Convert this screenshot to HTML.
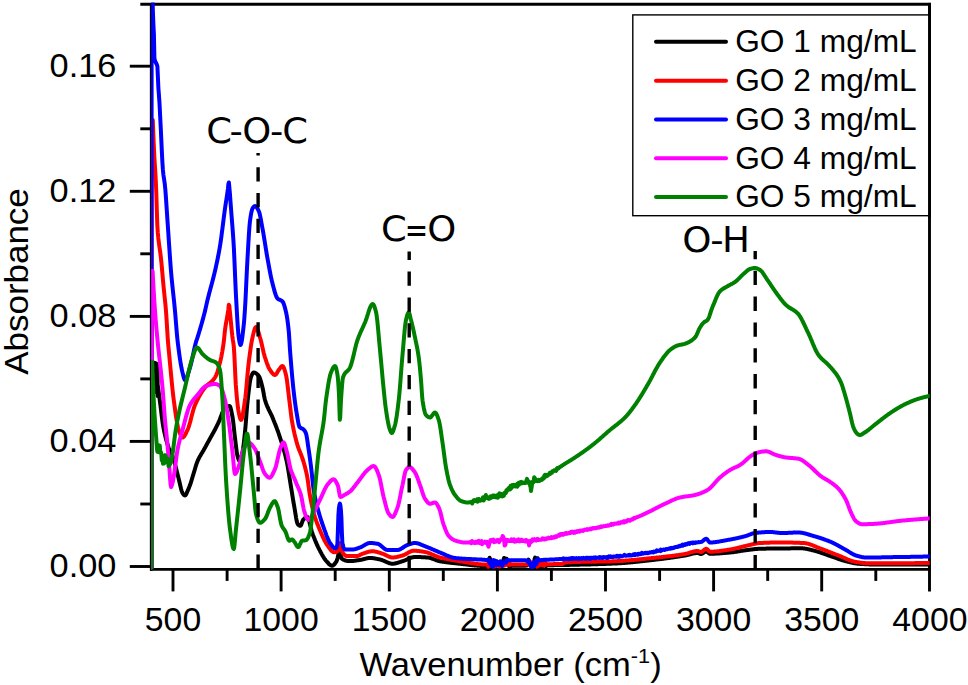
<!DOCTYPE html>
<html lang="en"><head><meta charset="utf-8"><title>FTIR absorbance of GO</title>
<style>html,body{margin:0;padding:0;background:#fff}body{width:968px;height:685px;overflow:hidden}svg{display:block}text{font-family:"Liberation Sans",Arial,sans-serif;fill:#000}.ann{font-family:"DejaVu Sans","Liberation Sans",sans-serif;font-stretch:normal}</style></head><body>
<svg width="968" height="685" viewBox="0 0 968 685">
<rect width="968" height="685" fill="#fff"/>
<defs><clipPath id="pc"><rect x="151.2" y="2.4" width="778.5" height="569"/></clipPath></defs>
<g stroke="#000" stroke-width="2.9" fill="none" stroke-linecap="butt">
<path d="M151.3,2.9000000000000004V570.6999999999999"/>
<path d="M150.0,569.4H930.8"/>
<path d="M140.3,4.2H930.8"/>
<path d="M929.5,2.9000000000000004V591.4"/>
<path d="M173.0,569.4V591.4"/>
<path d="M227.1,569.4V580.9"/>
<path d="M281.1,569.4V591.4"/>
<path d="M335.2,569.4V580.9"/>
<path d="M389.3,569.4V591.4"/>
<path d="M443.3,569.4V580.9"/>
<path d="M497.4,569.4V591.4"/>
<path d="M551.4,569.4V580.9"/>
<path d="M605.5,569.4V591.4"/>
<path d="M659.6,569.4V580.9"/>
<path d="M713.6,569.4V591.4"/>
<path d="M767.7,569.4V580.9"/>
<path d="M821.7,569.4V591.4"/>
<path d="M875.8,569.4V580.9"/>
<path d="M129.8,566.5H151.3"/>
<path d="M140.3,504.0H151.3"/>
<path d="M129.8,441.4H151.3"/>
<path d="M140.3,378.9H151.3"/>
<path d="M129.8,316.4H151.3"/>
<path d="M140.3,253.8H151.3"/>
<path d="M129.8,191.3H151.3"/>
<path d="M140.3,128.8H151.3"/>
<path d="M129.8,66.2H151.3"/>
</g>
<g clip-path="url(#pc)" fill="none" stroke-linejoin="round" stroke-linecap="round">
<path stroke="#000000" stroke-width="4.0" d="M151.6,567.5L151.6,362.0L152.6,362.0 153.1,362.2 153.6,362.8 154.1,363.8 154.6,364.9 155.1,366.3 155.6,368.9 156.1,372.7 156.6,376.9 157.1,380.7 157.6,384.3 158.1,387.9 158.6,391.6 159.1,395.3 159.6,399.0 160.1,402.8 160.6,406.7 161.1,410.8 161.6,414.9 162.1,418.8 162.6,422.4 163.1,425.6 163.6,428.4 164.1,430.9 164.6,433.3 165.1,435.4 165.6,437.4 166.1,439.4 166.6,441.2 167.1,443.0 167.6,444.6 168.1,446.2 168.6,447.6 169.1,448.9 169.6,450.0 170.1,451.0 170.6,452.0 171.1,452.9 171.6,453.9 172.1,455.0 172.6,456.3 173.1,457.7 173.6,459.3 174.1,461.0 174.6,462.8 175.1,464.6 175.6,466.6 176.1,468.6 176.6,470.6 177.1,472.6 177.6,474.6 178.1,476.5 178.6,478.4 179.1,480.4 179.6,482.5 180.1,484.7 180.6,486.9 181.1,489.0 181.6,490.8 182.1,492.2 182.6,493.2 183.1,493.9 183.6,494.6 184.1,495.1 184.6,495.4 185.1,495.5 185.6,495.1 186.1,494.4 186.6,493.3 187.1,492.1 187.6,490.9 188.1,489.8 188.6,488.7 189.1,487.4 189.6,486.1 190.1,484.8 190.6,483.3 191.1,481.8 191.6,480.2 192.1,478.5 192.6,476.8 193.1,475.1 193.6,473.5 194.1,471.9 194.6,470.2 195.1,468.5 195.6,466.8 196.1,465.2 196.6,463.7 197.1,462.3 197.6,461.0 198.1,459.9 198.6,458.8 199.1,457.8 199.6,456.9 200.1,456.0 200.6,455.2 201.1,454.3 201.6,453.5 202.1,452.7 202.6,451.9 203.1,451.0 203.6,450.2 204.1,449.3 204.6,448.4 205.1,447.5 205.6,446.6 206.1,445.6 206.6,444.7 207.1,443.8 207.6,442.9 208.1,442.0 208.6,441.1 209.1,440.2 209.6,439.3 210.1,438.4 210.6,437.5 211.1,436.6 211.6,435.7 212.1,434.8 212.6,433.9 213.1,433.0 213.6,432.1 214.1,431.2 214.6,430.3 215.1,429.3 215.6,428.3 216.1,427.3 216.6,426.3 217.1,425.3 217.6,424.3 218.1,423.3 218.6,422.2 219.1,421.1 219.6,419.9 220.1,418.6 220.6,417.3 221.1,415.9 221.6,414.6 222.1,413.3 222.6,412.0 223.1,410.9 223.6,409.9 224.1,409.0 224.6,408.4 225.1,407.9 225.6,407.6 226.1,407.3 226.6,406.9 227.1,406.7 227.6,406.4 228.1,406.2 228.6,406.1 229.1,406.0 229.6,406.0 230.1,406.6 230.6,408.0 231.1,410.0 231.6,412.3 232.1,414.9 232.6,417.5 233.1,421.0 233.6,425.3 234.1,430.0 234.6,434.6 235.1,438.8 235.6,442.9 236.1,447.1 236.6,450.9 237.1,454.2 237.6,456.4 238.1,458.2 238.6,459.7 239.1,460.7 239.6,461.0 240.1,460.5 240.6,459.4 241.1,457.8 241.6,455.9 242.1,453.8 242.6,451.5 243.1,448.6 243.6,444.9 244.1,440.5 244.6,435.8 245.1,431.0 245.6,425.3 246.1,418.8 246.6,412.2 247.1,406.1 247.6,401.1 248.1,396.5 248.6,392.1 249.1,387.9 249.6,384.1 250.1,380.8 250.6,378.4 251.1,376.7 251.6,375.5 252.1,374.4 252.6,373.5 253.1,372.8 253.6,372.5 254.1,372.5 254.6,372.6 255.1,372.8 255.6,373.1 256.1,373.4 256.6,373.8 257.1,374.2 257.6,374.7 258.1,375.3 258.6,375.8 259.1,376.5 259.6,377.5 260.1,378.8 260.6,380.4 261.1,382.1 261.6,384.0 262.1,385.9 262.6,387.9 263.1,390.3 263.6,393.0 264.1,395.9 264.6,398.4 265.1,400.3 265.6,401.9 266.1,403.4 266.6,404.7 267.1,406.0 267.6,407.2 268.1,408.2 268.6,409.3 269.1,410.3 269.6,411.3 270.1,412.3 270.6,413.3 271.1,414.3 271.6,415.3 272.1,416.5 272.6,417.7 273.1,418.9 273.6,420.2 274.1,421.4 274.6,422.7 275.1,423.9 275.6,425.2 276.1,426.5 276.6,427.8 277.1,429.2 277.6,430.5 278.1,431.9 278.6,433.3 279.1,434.8 279.6,436.3 280.1,437.8 280.6,439.3 281.1,440.9 281.6,442.5 282.1,444.1 282.6,445.7 283.1,447.4 283.6,449.1 284.1,450.9 284.6,452.7 285.1,454.6 285.6,456.6 286.1,458.7 286.6,460.9 287.1,463.3 287.6,466.0 288.1,468.9 288.6,471.9 289.1,475.0 289.6,478.2 290.1,481.3 290.6,484.4 291.1,487.4 291.6,490.5 292.1,493.6 292.6,496.8 293.1,499.8 293.6,502.8 294.1,505.7 294.6,508.5 295.1,511.6 295.6,514.7 296.1,517.8 296.6,520.5 297.1,522.6 297.6,523.9 298.1,524.5 298.6,525.0 299.1,525.4 299.6,525.6 300.1,525.8 300.6,525.7 301.1,524.9 301.6,523.7 302.1,522.3 302.6,521.0 303.1,519.9 303.6,519.3 304.1,518.8 304.6,518.3 305.1,517.9 305.6,517.6 306.1,517.3 306.6,517.1 307.1,517.0 307.6,517.2 308.1,518.0 308.6,519.2 309.1,520.8 309.6,522.7 310.1,524.7 310.6,526.8 311.1,528.8 311.6,530.8 312.1,532.4 312.6,533.8 313.1,535.2 313.6,536.5 314.1,537.8 314.6,539.0 315.1,540.3 315.6,541.5 316.1,542.7 316.6,543.8 317.1,545.0 317.6,546.0 318.1,547.1 318.6,548.1 319.1,549.1 319.6,550.1 320.1,551.0 320.6,552.0 321.1,552.9 321.6,553.9 322.1,554.8 322.6,555.6 323.1,556.5 323.6,557.3 324.1,558.1 324.6,558.8 325.1,559.5 325.6,560.2 326.1,560.8 326.6,561.3 327.1,561.9 327.6,562.4 328.1,563.0 328.6,563.5 329.1,564.1 329.6,564.5 330.1,564.9 330.6,565.3 331.1,565.5 331.6,565.7 332.1,565.7 332.6,565.6 333.1,565.4 333.6,565.0 334.1,564.5 334.6,564.0 335.1,563.3 335.6,562.6 336.1,561.9 336.6,561.1 337.1,559.8 337.6,557.9 338.1,555.6 338.6,553.4 339.1,551.7 339.6,550.9 340.1,551.7 340.6,554.0 341.1,556.7 341.6,558.5 342.1,558.9 342.6,559.2 343.1,559.5 343.6,559.8 344.1,560.0 344.6,560.2 345.1,560.4 345.6,560.6 346.1,560.7 346.6,560.8 347.1,560.9 347.6,561.0 348.1,561.0 348.6,561.1 349.1,561.1 349.6,561.1 350.1,561.1 350.6,561.1 351.1,561.1 351.6,561.0 352.1,561.0 352.6,561.0 353.1,560.9 353.6,560.9 354.1,560.8 354.6,560.7 355.1,560.7 355.6,560.6 356.1,560.6 356.6,560.5 357.1,560.4 357.6,560.3 358.1,560.3 358.6,560.2 359.1,560.1 359.6,560.1 360.1,560.0 360.6,559.9 361.1,559.8 361.6,559.7 362.1,559.6 362.6,559.5 363.1,559.3 363.6,559.2 364.1,559.1 364.6,558.9 365.1,558.8 365.6,558.7 366.1,558.5 366.6,558.4 367.1,558.3 367.6,558.2 368.1,558.1 368.6,558.1 369.1,558.0 369.6,558.0 370.1,558.0 370.6,558.0 371.1,558.0 371.6,558.1 372.1,558.1 372.6,558.1 373.1,558.2 373.6,558.3 374.1,558.3 374.6,558.4 375.1,558.5 375.6,558.6 376.1,558.7 376.6,558.8 377.1,558.9 377.6,559.0 378.1,559.1 378.6,559.2 379.1,559.3 379.6,559.4 380.1,559.5 380.6,559.6 381.1,559.8 381.6,559.9 382.1,560.1 382.6,560.3 383.1,560.5 383.6,560.7 384.1,561.0 384.6,561.2 385.1,561.4 385.6,561.6 386.1,561.9 386.6,562.1 387.1,562.3 387.6,562.5 388.1,562.7 388.6,562.9 389.1,563.1 389.6,563.3 390.1,563.4 390.6,563.5 391.1,563.6 391.6,563.7 392.1,563.7 392.6,563.7 393.1,563.7 393.6,563.7 394.1,563.6 394.6,563.6 395.1,563.5 395.6,563.4 396.1,563.2 396.6,563.1 397.1,563.0 397.6,562.8 398.1,562.7 398.6,562.5 399.1,562.3 399.6,562.2 400.1,562.0 400.6,561.8 401.1,561.7 401.6,561.5 402.1,561.4 402.6,561.2 403.1,561.1 403.6,560.9 404.1,560.7 404.6,560.5 405.1,560.3 405.6,560.1 406.1,559.9 406.6,559.6 407.1,559.4 407.6,559.2 408.1,559.0 408.6,558.7 409.1,558.5 409.6,558.3 410.1,558.1 410.6,557.9 411.1,557.7 411.6,557.6 412.1,557.4 412.6,557.3 413.1,557.2 413.6,557.1 414.1,557.0 414.6,557.0 415.1,557.0 415.6,557.0 416.1,557.0 416.6,557.0 417.1,557.0 417.6,557.0 418.1,557.0 418.6,557.0 419.1,557.1 419.6,557.1 420.1,557.1 420.6,557.1 421.1,557.1 421.6,557.2 422.1,557.2 422.6,557.2 423.1,557.2 423.6,557.3 424.1,557.3 424.6,557.3 425.1,557.3 425.6,557.4 426.1,557.4 426.6,557.4 427.1,557.5 427.6,557.5 428.1,557.6 428.6,557.6 429.1,557.7 429.6,557.8 430.1,558.0 430.6,558.1 431.1,558.2 431.6,558.4 432.1,558.6 432.6,558.8 433.1,559.0 433.6,559.1 434.1,559.3 434.6,559.5 435.1,559.7 435.6,559.9 436.1,560.1 436.6,560.3 437.1,560.5 437.6,560.6 438.1,560.8 438.6,560.9 439.1,561.1 439.6,561.2 440.1,561.3 440.6,561.4 441.1,561.4 441.6,561.5 442.1,561.6 442.6,561.7 443.1,561.8 443.6,561.8 444.1,561.9 444.6,562.0 445.1,562.1 445.6,562.1 446.1,562.2 446.6,562.3 447.1,562.3 447.6,562.4 448.1,562.5 448.6,562.5 449.1,562.6 449.6,562.6 450.1,562.7 450.6,562.8 451.1,562.8 451.6,562.9 452.1,562.9 452.6,563.0 453.1,563.0 453.6,563.1 454.1,563.1 454.6,563.2 455.1,563.2 455.6,563.3 456.1,563.3 456.6,563.4 457.1,563.4 457.6,563.5 458.1,563.6 458.6,563.6 459.1,563.7 459.6,563.7 460.1,563.8 460.6,563.8 461.1,563.9 461.6,563.9 462.1,564.0 462.6,564.0 463.1,564.1 463.6,564.2 464.1,564.2 464.6,564.3 465.1,564.3 465.6,564.4 466.1,564.5 466.6,564.5 467.1,564.6 467.6,564.6 468.1,564.7 468.6,564.8 469.1,564.8 469.6,564.9 470.1,564.9 470.6,565.0 471.1,565.0 471.6,565.1 472.1,565.2 472.6,565.2 473.1,565.3 473.6,565.3 474.1,565.4 474.6,565.4 475.1,565.5 475.6,565.5 476.1,565.6 476.6,565.6 477.1,565.6 477.6,565.7 478.1,565.7 478.6,565.8 479.1,565.8 479.6,565.8 480.1,565.9 480.6,565.9 481.1,565.9 481.6,565.9 482.1,565.9 482.6,566.0 483.1,566.0 483.6,566.0 484.1,566.0 484.6,566.0 485.1,566.0 485.6,566.0 486.1,566.0 486.6,565.9 487.1,566.0 487.6,566.2 488.1,565.3 488.6,564.9 489.1,562.4 489.6,557.8 490.1,558.9 490.6,560.9 491.1,563.1 491.6,565.2 492.1,566.3 492.6,565.8 493.1,565.8 493.6,564.8 494.1,566.4 494.6,566.1 495.1,566.2 495.6,564.6 496.1,566.2 496.6,563.0 497.1,561.7 497.6,565.3 498.1,565.3 498.6,564.7 499.1,565.6 499.6,564.1 500.1,566.8 500.6,565.6 501.1,565.3 501.6,566.8 502.1,564.4 502.6,565.4 503.1,561.2 503.6,559.4 504.1,558.0 504.6,562.2 505.1,564.9 505.6,563.1 506.1,561.0 506.6,558.8 507.1,562.3 507.6,564.2 508.1,564.4 508.6,564.4 509.1,566.2 509.6,567.3 510.1,566.0 510.6,565.7 511.1,566.1 511.6,565.8 512.1,565.8 512.6,565.8 513.1,565.8 513.6,565.8 514.1,565.8 514.6,565.8 515.1,565.8 515.6,565.8 516.1,565.8 516.6,565.8 517.1,565.8 517.6,565.8 518.1,565.8 518.6,565.7 519.1,565.7 519.6,565.7 520.1,565.7 520.6,565.7 521.1,565.7 521.6,565.7 522.1,565.7 522.6,565.7 523.1,565.7 523.6,565.7 524.1,565.7 524.6,565.7 525.1,565.7 525.6,565.6 526.1,565.6 526.6,565.6 527.1,565.1 527.6,563.4 528.1,560.7 528.6,559.7 529.1,561.7 529.6,564.1 530.1,564.4 530.6,565.9 531.1,565.5 531.6,566.5 532.1,565.2 532.6,564.0 533.1,565.4 533.6,566.3 534.1,562.6 534.6,559.0 535.1,557.6 535.6,560.1 536.1,563.0 536.6,561.6 537.1,560.9 537.6,558.3 538.1,561.0 538.6,565.0 539.1,566.3 539.6,565.2 540.1,565.7 540.6,566.0 541.1,565.2 541.6,564.0 542.1,565.9 542.6,566.1 543.1,565.7 543.6,564.6 544.1,565.2 544.6,564.8 545.1,565.1 545.6,566.1 546.1,566.0 546.6,565.5 547.1,565.4 547.6,565.3 548.1,565.3 548.6,565.2 549.1,565.2 549.6,565.2 550.1,565.2 550.6,565.2 551.1,565.2 551.6,565.2 552.1,565.2 552.6,565.2 553.1,565.2 553.6,565.2 554.1,565.1 554.6,565.1 555.1,565.1 555.6,565.1 556.1,565.1 556.6,565.1 557.1,565.1 557.6,565.1 558.1,565.1 558.6,565.1 559.1,565.1 559.6,565.0 560.1,565.0 560.6,565.0 561.1,565.0 561.6,565.0 562.1,565.0 562.6,565.0 563.1,565.0 563.6,565.0 564.1,565.0 564.6,565.0 565.1,564.9 565.6,564.9 566.1,564.9 566.6,564.9 567.1,564.9 567.6,564.9 568.1,564.9 568.6,564.9 569.1,564.9 569.6,564.9 570.1,564.8 570.6,564.8 571.1,564.8 571.6,564.8 572.1,564.8 572.6,564.8 573.1,564.8 573.6,564.8 574.1,564.8 574.6,564.8 575.1,564.7 575.6,564.7 576.1,564.7 576.6,564.7 577.1,564.7 577.6,564.7 578.1,564.7 578.6,564.7 579.1,564.7 579.6,564.6 580.1,564.6 580.6,564.6 581.1,564.6 581.6,564.6 582.1,564.6 582.6,564.6 583.1,564.6 583.6,564.6 584.1,564.5 584.6,564.5 585.1,564.5 585.6,564.5 586.1,564.5 586.6,564.5 587.1,564.5 587.6,564.4 588.1,564.4 588.6,564.4 589.1,564.4 589.6,564.4 590.1,564.4 590.6,564.4 591.1,564.4 591.6,564.3 592.1,564.3 592.6,564.3 593.1,564.3 593.6,564.3 594.1,564.3 594.6,564.3 595.1,564.2 595.6,564.2 596.1,564.2 596.6,564.2 597.1,564.2 597.6,564.2 598.1,564.1 598.6,564.1 599.1,564.1 599.6,564.1 600.1,564.1 600.6,564.1 601.1,564.0 601.6,564.0 602.1,564.0 602.6,564.0 603.1,564.0 603.6,564.0 604.1,563.9 604.6,563.9 605.1,563.9 605.6,563.9 606.1,563.9 606.6,563.8 607.1,563.8 607.6,563.8 608.1,563.8 608.6,563.8 609.1,563.7 609.6,563.7 610.1,563.7 610.6,563.7 611.1,563.7 611.6,563.6 612.1,563.6 612.6,563.6 613.1,563.6 613.6,563.6 614.1,563.5 614.6,563.5 615.1,563.5 615.6,563.5 616.1,563.4 616.6,563.4 617.1,563.4 617.6,563.4 618.1,563.3 618.6,563.3 619.1,563.3 619.6,563.3 620.1,563.2 620.6,563.2 621.1,563.2 621.6,563.1 622.1,563.1 622.6,563.0 623.1,563.0 623.6,563.0 624.1,562.9 624.6,562.9 625.1,562.9 625.6,562.8 626.1,562.8 626.6,562.7 627.1,562.7 627.6,562.6 628.1,562.6 628.6,562.6 629.1,562.5 629.6,562.5 630.1,562.4 630.6,562.4 631.1,562.3 631.6,562.3 632.1,562.2 632.6,562.2 633.1,562.1 633.6,562.1 634.1,562.0 634.6,562.0 635.1,561.9 635.6,561.9 636.1,561.8 636.6,561.8 637.1,561.7 637.6,561.7 638.1,561.6 638.6,561.6 639.1,561.5 639.6,561.4 640.1,561.4 640.6,561.3 641.1,561.3 641.6,561.2 642.1,561.2 642.6,561.1 643.1,561.1 643.6,561.0 644.1,560.9 644.6,560.9 645.1,560.8 645.6,560.8 646.1,560.7 646.6,560.7 647.1,560.6 647.6,560.6 648.1,560.5 648.6,560.4 649.1,560.4 649.6,560.3 650.1,560.3 650.6,560.2 651.1,560.2 651.6,560.1 652.1,560.0 652.6,560.0 653.1,559.9 653.6,559.9 654.1,559.8 654.6,559.8 655.1,559.7 655.6,559.6 656.1,559.6 656.6,559.5 657.1,559.5 657.6,559.4 658.1,559.3 658.6,559.3 659.1,559.2 659.6,559.2 660.1,559.1 660.6,559.0 661.1,559.0 661.6,558.9 662.1,558.9 662.6,558.8 663.1,558.7 663.6,558.7 664.1,558.6 664.6,558.5 665.1,558.5 665.6,558.4 666.1,558.3 666.6,558.3 667.1,558.2 667.6,558.1 668.1,558.1 668.6,558.0 669.1,557.9 669.6,557.9 670.1,557.8 670.6,557.7 671.1,557.6 671.6,557.6 672.1,557.5 672.6,557.4 673.1,557.4 673.6,557.3 674.1,557.2 674.6,557.1 675.1,557.1 675.6,557.0 676.1,556.9 676.6,556.8 677.1,556.8 677.6,556.7 678.1,556.6 678.6,556.5 679.1,556.5 679.6,556.4 680.1,556.3 680.6,556.2 681.1,556.1 681.6,556.1 682.1,556.0 682.6,555.9 683.1,555.8 683.6,555.7 684.1,555.7 684.6,555.6 685.1,555.5 685.6,555.4 686.1,555.3 686.6,555.2 687.1,555.1 687.6,554.9 688.1,554.8 688.6,554.7 689.1,554.6 689.6,554.4 690.1,554.3 690.6,554.2 691.1,554.0 691.6,553.9 692.1,553.8 692.6,553.7 693.1,553.5 693.6,553.4 694.1,553.3 694.6,553.3 695.1,553.2 695.6,553.1 696.1,553.1 696.6,553.0 697.1,553.0 697.6,553.0 698.1,553.1 698.6,553.2 699.1,553.4 699.6,553.6 700.1,553.8 700.6,554.0 701.1,554.0 701.6,553.9 702.1,553.7 702.6,553.4 703.1,553.1 703.6,552.8 704.1,552.4 704.6,552.1 705.1,551.8 705.6,551.6 706.1,551.5 706.6,551.6 707.1,551.8 707.6,552.2 708.1,552.6 708.6,553.0 709.1,553.4 709.6,553.7 710.1,553.7 710.6,553.7 711.1,553.7 711.6,553.7 712.1,553.7 712.6,553.7 713.1,553.7 713.6,553.7 714.1,553.7 714.6,553.7 715.1,553.6 715.6,553.6 716.1,553.6 716.6,553.6 717.1,553.5 717.6,553.5 718.1,553.5 718.6,553.4 719.1,553.4 719.6,553.4 720.1,553.3 720.6,553.3 721.1,553.3 721.6,553.2 722.1,553.2 722.6,553.1 723.1,553.1 723.6,553.1 724.1,553.0 724.6,553.0 725.1,552.9 725.6,552.9 726.1,552.8 726.6,552.8 727.1,552.8 727.6,552.7 728.1,552.7 728.6,552.6 729.1,552.6 729.6,552.5 730.1,552.5 730.6,552.4 731.1,552.4 731.6,552.3 732.1,552.3 732.6,552.2 733.1,552.2 733.6,552.1 734.1,552.0 734.6,552.0 735.1,551.9 735.6,551.8 736.1,551.7 736.6,551.7 737.1,551.6 737.6,551.5 738.1,551.4 738.6,551.3 739.1,551.3 739.6,551.2 740.1,551.1 740.6,551.0 741.1,550.9 741.6,550.8 742.1,550.8 742.6,550.7 743.1,550.6 743.6,550.5 744.1,550.5 744.6,550.4 745.1,550.3 745.6,550.2 746.1,550.2 746.6,550.1 747.1,550.0 747.6,550.0 748.1,549.9 748.6,549.9 749.1,549.8 749.6,549.7 750.1,549.7 750.6,549.6 751.1,549.6 751.6,549.5 752.1,549.4 752.6,549.4 753.1,549.3 753.6,549.2 754.1,549.2 754.6,549.1 755.1,549.1 755.6,549.0 756.1,549.0 756.6,548.9 757.1,548.9 757.6,548.9 758.1,548.8 758.6,548.8 759.1,548.8 759.6,548.8 760.1,548.7 760.6,548.7 761.1,548.7 761.6,548.7 762.1,548.7 762.6,548.7 763.1,548.7 763.6,548.7 764.1,548.7 764.6,548.7 765.1,548.7 765.6,548.7 766.1,548.6 766.6,548.6 767.1,548.6 767.6,548.6 768.1,548.6 768.6,548.6 769.1,548.6 769.6,548.6 770.1,548.6 770.6,548.6 771.1,548.6 771.6,548.6 772.1,548.6 772.6,548.6 773.1,548.6 773.6,548.6 774.1,548.6 774.6,548.6 775.1,548.6 775.6,548.6 776.1,548.5 776.6,548.5 777.1,548.5 777.6,548.5 778.1,548.5 778.6,548.5 779.1,548.5 779.6,548.5 780.1,548.5 780.6,548.5 781.1,548.5 781.6,548.5 782.1,548.5 782.6,548.5 783.1,548.5 783.6,548.5 784.1,548.5 784.6,548.4 785.1,548.4 785.6,548.4 786.1,548.4 786.6,548.4 787.1,548.4 787.6,548.4 788.1,548.4 788.6,548.4 789.1,548.4 789.6,548.4 790.1,548.4 790.6,548.4 791.1,548.3 791.6,548.3 792.1,548.3 792.6,548.3 793.1,548.3 793.6,548.3 794.1,548.3 794.6,548.3 795.1,548.3 795.6,548.3 796.1,548.3 796.6,548.3 797.1,548.3 797.6,548.3 798.1,548.3 798.6,548.3 799.1,548.3 799.6,548.3 800.1,548.3 800.6,548.3 801.1,548.3 801.6,548.3 802.1,548.3 802.6,548.3 803.1,548.4 803.6,548.4 804.1,548.5 804.6,548.5 805.1,548.6 805.6,548.7 806.1,548.8 806.6,548.9 807.1,549.0 807.6,549.1 808.1,549.2 808.6,549.3 809.1,549.4 809.6,549.6 810.1,549.7 810.6,549.8 811.1,549.9 811.6,550.0 812.1,550.2 812.6,550.3 813.1,550.4 813.6,550.5 814.1,550.6 814.6,550.8 815.1,550.9 815.6,551.0 816.1,551.2 816.6,551.3 817.1,551.5 817.6,551.6 818.1,551.8 818.6,551.9 819.1,552.1 819.6,552.2 820.1,552.4 820.6,552.6 821.1,552.8 821.6,552.9 822.1,553.1 822.6,553.3 823.1,553.5 823.6,553.6 824.1,553.8 824.6,554.0 825.1,554.2 825.6,554.4 826.1,554.5 826.6,554.7 827.1,554.9 827.6,555.1 828.1,555.3 828.6,555.4 829.1,555.6 829.6,555.8 830.1,555.9 830.6,556.1 831.1,556.3 831.6,556.5 832.1,556.6 832.6,556.8 833.1,557.0 833.6,557.1 834.1,557.3 834.6,557.5 835.1,557.7 835.6,557.9 836.1,558.0 836.6,558.2 837.1,558.4 837.6,558.6 838.1,558.8 838.6,558.9 839.1,559.1 839.6,559.3 840.1,559.5 840.6,559.6 841.1,559.8 841.6,560.0 842.1,560.1 842.6,560.3 843.1,560.4 843.6,560.6 844.1,560.7 844.6,560.9 845.1,561.0 845.6,561.1 846.1,561.3 846.6,561.4 847.1,561.5 847.6,561.7 848.1,561.8 848.6,561.9 849.1,562.0 849.6,562.2 850.1,562.3 850.6,562.4 851.1,562.5 851.6,562.6 852.1,562.7 852.6,562.8 853.1,563.0 853.6,563.1 854.1,563.2 854.6,563.2 855.1,563.3 855.6,563.4 856.1,563.5 856.6,563.6 857.1,563.6 857.6,563.7 858.1,563.7 858.6,563.8 859.1,563.8 859.6,563.8 860.1,563.9 860.6,563.9 861.1,563.9 861.6,564.0 862.1,564.0 862.6,564.0 863.1,564.1 863.6,564.1 864.1,564.1 864.6,564.1 865.1,564.2 865.6,564.2 866.1,564.2 866.6,564.3 867.1,564.3 867.6,564.3 868.1,564.3 868.6,564.3 869.1,564.4 869.6,564.4 870.1,564.4 870.6,564.4 871.1,564.4 871.6,564.4 872.1,564.5 872.6,564.5 873.1,564.5 873.6,564.5 874.1,564.5 874.6,564.5 875.1,564.5 875.6,564.5 876.1,564.5 876.6,564.5 877.1,564.5 877.6,564.5 878.1,564.5 878.6,564.5 879.1,564.5 879.6,564.5 880.1,564.5 880.6,564.5 881.1,564.5 881.6,564.5 882.1,564.5 882.6,564.5 883.1,564.5 883.6,564.5 884.1,564.5 884.6,564.5 885.1,564.5 885.6,564.5 886.1,564.5 886.6,564.5 887.1,564.5 887.6,564.5 888.1,564.5 888.6,564.5 889.1,564.5 889.6,564.5 890.1,564.5 890.6,564.5 891.1,564.5 891.6,564.5 892.1,564.5 892.6,564.5 893.1,564.5 893.6,564.5 894.1,564.5 894.6,564.5 895.1,564.5 895.6,564.5 896.1,564.5 896.6,564.5 897.1,564.5 897.6,564.5 898.1,564.5 898.6,564.5 899.1,564.5 899.6,564.5 900.1,564.5 900.6,564.5 901.1,564.5 901.6,564.5 902.1,564.5 902.6,564.5 903.1,564.5 903.6,564.5 904.1,564.5 904.6,564.5 905.1,564.5 905.6,564.5 906.1,564.5 906.6,564.5 907.1,564.5 907.6,564.5 908.1,564.5 908.6,564.5 909.1,564.5 909.6,564.5 910.1,564.5 910.6,564.5 911.1,564.5 911.6,564.5 912.1,564.5 912.6,564.5 913.1,564.5 913.6,564.5 914.1,564.5 914.6,564.5 915.1,564.5 915.6,564.5 916.1,564.5 916.6,564.5 917.1,564.5 917.6,564.5 918.1,564.5 918.6,564.5 919.1,564.5 919.6,564.5 920.1,564.5 920.6,564.5 921.1,564.5 921.6,564.5 922.1,564.5 922.6,564.5 923.1,564.5 923.6,564.5 924.1,564.5 924.6,564.5 925.1,564.5 925.6,564.5 926.1,564.5 926.6,564.5 927.1,564.5 927.6,564.5 928.1,564.5 928.6,564.5 929.1,564.5 929.6,564.5 930.1,564.5 930.6,564.5M155.3,363V392M157.6,364V396"/>
<path stroke="#ff0000" stroke-width="4.0" d="M151.6,567.5L151.6,120.0L152.8,120.0 153.3,133.5 153.8,145.6 154.3,155.8 154.8,164.1 155.3,171.9 155.8,180.8 156.3,193.1 156.8,209.9 157.3,224.8 157.8,232.5 158.3,237.9 158.8,242.2 159.3,245.9 159.8,249.2 160.3,252.7 160.8,256.7 161.3,261.5 161.8,266.8 162.3,272.4 162.8,278.1 163.3,283.7 163.8,289.0 164.3,293.9 164.8,298.5 165.3,303.3 165.8,308.6 166.3,315.1 166.8,323.1 167.3,331.6 167.8,339.4 168.3,345.4 168.8,350.5 169.3,355.8 169.8,361.2 170.3,366.6 170.8,372.0 171.3,377.3 171.8,382.5 172.3,387.4 172.8,392.1 173.3,396.4 173.8,400.4 174.3,404.1 174.8,407.8 175.3,411.4 175.8,414.9 176.3,418.2 176.8,421.2 177.3,424.0 177.8,426.4 178.3,428.5 178.8,430.1 179.3,431.6 179.8,433.0 180.3,434.3 180.8,435.5 181.3,436.5 181.8,437.1 182.3,437.5 182.8,437.5 183.3,437.2 183.8,436.7 184.3,436.1 184.8,435.4 185.3,434.5 185.8,433.5 186.3,432.5 186.8,431.4 187.3,430.4 187.8,429.4 188.3,428.1 188.8,426.6 189.3,425.0 189.8,423.3 190.3,421.5 190.8,419.5 191.3,417.6 191.8,415.6 192.3,413.7 192.8,411.8 193.3,410.0 193.8,408.4 194.3,406.8 194.8,405.5 195.3,404.3 195.8,403.2 196.3,402.1 196.8,401.0 197.3,400.0 197.8,399.0 198.3,398.0 198.8,397.1 199.3,396.2 199.8,395.3 200.3,394.4 200.8,393.6 201.3,392.8 201.8,392.0 202.3,391.2 202.8,390.5 203.3,389.8 203.8,389.1 204.3,388.4 204.8,387.8 205.3,387.1 205.8,386.5 206.3,386.0 206.8,385.5 207.3,385.1 207.8,384.6 208.3,384.2 208.8,383.8 209.3,383.4 209.8,383.1 210.3,382.7 210.8,382.3 211.3,381.8 211.8,381.4 212.3,380.9 212.8,380.4 213.3,379.8 213.8,379.2 214.3,378.5 214.8,377.8 215.3,377.0 215.8,376.0 216.3,374.8 216.8,373.5 217.3,372.1 217.8,370.5 218.3,368.8 218.8,367.1 219.3,365.2 219.8,363.3 220.3,361.3 220.8,359.1 221.3,356.8 221.8,354.2 222.3,351.5 222.8,348.4 223.3,345.2 223.8,341.6 224.3,336.9 224.8,331.7 225.3,327.8 225.8,324.6 226.3,321.7 226.8,319.0 227.3,316.2 227.8,313.2 228.3,309.7 228.8,304.7 229.3,305.6 229.8,311.0 230.3,315.8 230.8,321.0 231.3,326.3 231.8,331.3 232.3,335.9 232.8,339.6 233.3,342.5 233.8,346.5 234.3,354.0 234.8,364.3 235.3,375.3 235.8,384.7 236.3,391.1 236.8,396.8 237.3,401.9 237.8,406.3 238.3,410.0 238.8,412.7 239.3,415.1 239.8,417.3 240.3,419.0 240.8,419.9 241.3,419.8 241.8,418.8 242.3,416.9 242.8,414.5 243.3,411.5 243.8,408.3 244.3,404.8 244.8,401.4 245.3,397.8 245.8,393.4 246.3,388.2 246.8,382.7 247.3,377.0 247.8,371.5 248.3,366.5 248.8,362.1 249.3,358.1 249.8,354.2 250.3,350.5 250.8,347.0 251.3,343.7 251.8,340.8 252.3,338.4 252.8,336.2 253.3,334.1 253.8,332.1 254.3,330.3 254.8,328.7 255.3,327.6 255.8,327.1 256.3,327.1 256.8,327.7 257.3,328.7 257.8,330.1 258.3,331.7 258.8,333.4 259.3,335.1 259.8,336.9 260.3,338.5 260.8,340.3 261.3,342.3 261.8,344.5 262.3,346.7 262.8,348.9 263.3,351.1 263.8,353.2 264.3,355.1 264.8,356.9 265.3,358.4 265.8,359.9 266.3,361.4 266.8,362.9 267.3,364.2 267.8,365.6 268.3,366.8 268.8,367.9 269.3,368.9 269.8,369.7 270.3,370.4 270.8,371.1 271.3,371.9 271.8,372.5 272.3,373.2 272.8,373.7 273.3,374.2 273.8,374.6 274.3,374.9 274.8,375.0 275.3,374.9 275.8,374.6 276.3,374.0 276.8,373.2 277.3,372.3 277.8,371.4 278.3,370.6 278.8,369.9 279.3,369.3 279.8,368.6 280.3,367.9 280.8,367.2 281.3,366.7 281.8,366.2 282.3,366.0 282.8,366.1 283.3,366.7 283.8,367.6 284.3,369.0 284.8,370.6 285.3,372.3 285.8,374.2 286.3,376.3 286.8,379.3 287.3,383.0 287.8,387.2 288.3,391.6 288.8,395.9 289.3,400.0 289.8,404.0 290.3,408.3 290.8,412.5 291.3,416.5 291.8,419.9 292.3,422.8 292.8,425.5 293.3,428.1 293.8,430.6 294.3,432.9 294.8,435.1 295.3,437.1 295.8,439.1 296.3,441.0 296.8,442.8 297.3,444.5 297.8,446.1 298.3,447.6 298.8,449.0 299.3,450.3 299.8,451.6 300.3,452.8 300.8,454.0 301.3,455.3 301.8,456.6 302.3,458.0 302.8,459.5 303.3,461.1 303.8,462.8 304.3,464.5 304.8,466.3 305.3,468.2 305.8,470.2 306.3,472.4 306.8,474.7 307.3,477.2 307.8,480.4 308.3,484.0 308.8,487.8 309.3,491.4 309.8,494.6 310.3,497.4 310.8,500.0 311.3,502.6 311.8,505.0 312.3,507.3 312.8,509.4 313.3,511.4 313.8,513.2 314.3,514.9 314.8,516.6 315.3,518.1 315.8,519.6 316.3,521.1 316.8,522.4 317.3,523.8 317.8,525.1 318.3,526.3 318.8,527.5 319.3,528.7 319.8,529.9 320.3,531.1 320.8,532.3 321.3,533.4 321.8,534.6 322.3,535.7 322.8,536.8 323.3,537.9 323.8,539.0 324.3,540.0 324.8,541.0 325.3,541.9 325.8,542.8 326.3,543.7 326.8,544.5 327.3,545.2 327.8,545.9 328.3,546.6 328.8,547.3 329.3,548.0 329.8,548.7 330.3,549.4 330.8,550.0 331.3,550.6 331.8,551.1 332.3,551.5 332.8,551.8 333.3,552.1 333.8,552.2 334.3,552.2 334.8,552.2 335.3,552.1 335.8,552.0 336.3,551.8 336.8,551.6 337.3,551.4 337.8,551.1 338.3,549.8 338.8,546.9 339.3,544.0 339.8,543.0 340.3,544.5 340.8,547.1 341.3,549.7 341.8,551.2 342.3,552.0 342.8,552.8 343.3,553.5 343.8,554.1 344.3,554.7 344.8,555.1 345.3,555.5 345.8,555.8 346.3,555.9 346.8,556.0 347.3,556.0 347.8,556.0 348.3,556.0 348.8,556.0 349.3,556.0 349.8,556.0 350.3,556.0 350.8,556.0 351.3,556.0 351.8,556.0 352.3,556.0 352.8,556.0 353.3,556.0 353.8,556.0 354.3,556.0 354.8,556.0 355.3,556.0 355.8,556.0 356.3,556.0 356.8,556.0 357.3,556.0 357.8,555.9 358.3,555.8 358.8,555.6 359.3,555.3 359.8,555.1 360.3,554.8 360.8,554.5 361.3,554.3 361.8,554.0 362.3,553.8 362.8,553.7 363.3,553.5 363.8,553.3 364.3,553.2 364.8,553.0 365.3,552.8 365.8,552.6 366.3,552.5 366.8,552.3 367.3,552.2 367.8,552.0 368.3,551.9 368.8,551.7 369.3,551.6 369.8,551.5 370.3,551.4 370.8,551.4 371.3,551.3 371.8,551.3 372.3,551.3 372.8,551.3 373.3,551.3 373.8,551.3 374.3,551.4 374.8,551.5 375.3,551.6 375.8,551.7 376.3,551.8 376.8,551.9 377.3,552.1 377.8,552.2 378.3,552.4 378.8,552.5 379.3,552.7 379.8,552.9 380.3,553.0 380.8,553.2 381.3,553.4 381.8,553.5 382.3,553.7 382.8,553.8 383.3,554.0 383.8,554.2 384.3,554.4 384.8,554.7 385.3,554.9 385.8,555.2 386.3,555.4 386.8,555.7 387.3,555.9 387.8,556.1 388.3,556.4 388.8,556.6 389.3,556.8 389.8,557.0 390.3,557.1 390.8,557.3 391.3,557.4 391.8,557.5 392.3,557.5 392.8,557.5 393.3,557.5 393.8,557.4 394.3,557.4 394.8,557.3 395.3,557.3 395.8,557.2 396.3,557.1 396.8,557.0 397.3,556.9 397.8,556.8 398.3,556.6 398.8,556.5 399.3,556.4 399.8,556.2 400.3,556.1 400.8,556.0 401.3,555.8 401.8,555.7 402.3,555.6 402.8,555.4 403.3,555.2 403.8,555.1 404.3,554.8 404.8,554.6 405.3,554.3 405.8,554.1 406.3,553.8 406.8,553.5 407.3,553.2 407.8,552.9 408.3,552.6 408.8,552.4 409.3,552.1 409.8,551.9 410.3,551.6 410.8,551.4 411.3,551.2 411.8,551.1 412.3,550.9 412.8,550.8 413.3,550.8 413.8,550.8 414.3,550.8 414.8,550.8 415.3,550.8 415.8,550.8 416.3,550.8 416.8,550.9 417.3,550.9 417.8,551.0 418.3,551.0 418.8,551.1 419.3,551.1 419.8,551.2 420.3,551.3 420.8,551.3 421.3,551.4 421.8,551.5 422.3,551.6 422.8,551.6 423.3,551.7 423.8,551.8 424.3,551.9 424.8,552.0 425.3,552.1 425.8,552.2 426.3,552.3 426.8,552.4 427.3,552.5 427.8,552.7 428.3,552.9 428.8,553.1 429.3,553.2 429.8,553.4 430.3,553.6 430.8,553.8 431.3,554.1 431.8,554.3 432.3,554.5 432.8,554.7 433.3,554.9 433.8,555.2 434.3,555.4 434.8,555.6 435.3,555.8 435.8,556.0 436.3,556.2 436.8,556.4 437.3,556.6 437.8,556.8 438.3,557.0 438.8,557.2 439.3,557.3 439.8,557.4 440.3,557.6 440.8,557.7 441.3,557.8 441.8,557.9 442.3,558.1 442.8,558.2 443.3,558.3 443.8,558.4 444.3,558.5 444.8,558.6 445.3,558.7 445.8,558.8 446.3,558.9 446.8,559.0 447.3,559.1 447.8,559.2 448.3,559.3 448.8,559.4 449.3,559.5 449.8,559.6 450.3,559.7 450.8,559.8 451.3,559.8 451.8,559.9 452.3,560.0 452.8,560.1 453.3,560.2 453.8,560.3 454.3,560.4 454.8,560.4 455.3,560.5 455.8,560.6 456.3,560.7 456.8,560.8 457.3,560.8 457.8,560.9 458.3,561.0 458.8,561.1 459.3,561.1 459.8,561.2 460.3,561.3 460.8,561.4 461.3,561.5 461.8,561.5 462.3,561.6 462.8,561.7 463.3,561.8 463.8,561.9 464.3,562.0 464.8,562.0 465.3,562.1 465.8,562.2 466.3,562.3 466.8,562.4 467.3,562.5 467.8,562.6 468.3,562.7 468.8,562.7 469.3,562.8 469.8,562.9 470.3,563.0 470.8,563.1 471.3,563.2 471.8,563.2 472.3,563.3 472.8,563.4 473.3,563.5 473.8,563.6 474.3,563.6 474.8,563.7 475.3,563.8 475.8,563.8 476.3,563.9 476.8,564.0 477.3,564.0 477.8,564.1 478.3,564.1 478.8,564.2 479.3,564.2 479.8,564.3 480.3,564.3 480.8,564.3 481.3,564.4 481.8,564.4 482.3,564.4 482.8,564.5 483.3,564.5 483.8,564.5 484.3,564.5 484.8,564.5 485.3,564.5 485.8,564.5 486.3,564.5 486.8,564.5 487.3,564.2 487.8,564.5 488.3,566.7 488.8,565.5 489.3,564.1 489.8,563.9 490.3,563.5 490.8,564.9 491.3,565.0 491.8,562.8 492.3,565.1 492.8,563.8 493.3,566.2 493.8,564.7 494.3,566.6 494.8,563.9 495.3,564.2 495.8,564.9 496.3,565.8 496.8,565.2 497.3,563.0 497.8,564.7 498.3,564.5 498.8,564.0 499.3,563.7 499.8,566.6 500.3,564.0 500.8,563.5 501.3,565.3 501.8,564.6 502.3,564.4 502.8,565.4 503.3,565.1 503.8,564.9 504.3,565.6 504.8,564.8 505.3,563.7 505.8,564.1 506.3,563.9 506.8,564.7 507.3,563.2 507.8,562.3 508.3,564.6 508.8,562.9 509.3,562.1 509.8,564.8 510.3,564.0 510.8,564.7 511.3,564.3 511.8,564.5 512.3,564.5 512.8,564.5 513.3,564.5 513.8,564.5 514.3,564.5 514.8,564.5 515.3,564.5 515.8,564.5 516.3,564.5 516.8,564.5 517.3,564.5 517.8,564.5 518.3,564.5 518.8,564.4 519.3,564.4 519.8,564.4 520.3,564.4 520.8,564.4 521.3,564.4 521.8,564.4 522.3,564.4 522.8,564.4 523.3,564.4 523.8,564.4 524.3,564.4 524.8,564.4 525.3,564.4 525.8,564.4 526.3,564.4 526.8,564.4 527.3,564.4 527.8,564.4 528.3,564.4 528.8,564.3 529.3,564.3 529.8,563.8 530.3,564.1 530.8,562.5 531.3,564.4 531.8,562.2 532.3,564.1 532.8,565.2 533.3,565.7 533.8,566.4 534.3,562.5 534.8,565.3 535.3,565.8 535.8,565.5 536.3,563.2 536.8,564.8 537.3,566.6 537.8,562.5 538.3,564.9 538.8,565.7 539.3,563.5 539.8,565.0 540.3,563.0 540.8,563.3 541.3,563.3 541.8,564.5 542.3,564.2 542.8,565.4 543.3,563.1 543.8,564.1 544.3,565.4 544.8,564.9 545.3,562.7 545.8,564.9 546.3,563.9 546.8,564.4 547.3,564.3 547.8,564.2 548.3,564.2 548.8,564.2 549.3,564.2 549.8,564.2 550.3,564.2 550.8,564.2 551.3,564.2 551.8,564.2 552.3,564.2 552.8,564.2 553.3,564.1 553.8,564.1 554.3,564.1 554.8,564.1 555.3,564.1 555.8,564.1 556.3,564.1 556.8,564.1 557.3,564.1 557.8,564.1 558.3,564.1 558.8,564.1 559.3,564.0 559.8,564.0 560.3,564.0 560.8,564.0 561.3,564.0 561.8,564.0 562.3,564.0 562.8,563.7 563.3,563.4 563.8,563.1 564.3,562.7 564.8,562.5 565.3,562.5 565.8,562.4 566.3,562.4 566.8,562.4 567.3,562.4 567.8,562.3 568.3,562.3 568.8,562.3 569.3,562.3 569.8,562.2 570.3,562.2 570.8,562.2 571.3,562.2 571.8,562.1 572.3,562.1 572.8,562.1 573.3,562.1 573.8,562.1 574.3,562.0 574.8,562.0 575.3,562.0 575.8,562.0 576.3,562.0 576.8,562.0 577.3,561.9 577.8,561.9 578.3,561.9 578.8,561.9 579.3,561.9 579.8,561.9 580.3,561.9 580.8,561.9 581.3,561.8 581.8,561.8 582.3,561.8 582.8,561.8 583.3,561.8 583.8,561.8 584.3,561.8 584.8,561.8 585.3,561.8 585.8,561.8 586.3,561.8 586.8,561.8 587.3,561.8 587.8,561.7 588.3,561.7 588.8,561.7 589.3,561.7 589.8,561.7 590.3,561.7 590.8,561.7 591.3,561.7 591.8,561.7 592.3,561.7 592.8,561.7 593.3,561.7 593.8,561.7 594.3,561.7 594.8,561.7 595.3,561.7 595.8,561.7 596.3,561.7 596.8,561.6 597.3,561.6 597.8,561.6 598.3,561.6 598.8,561.6 599.3,561.6 599.8,561.6 600.3,561.6 600.8,561.6 601.3,561.6 601.8,561.6 602.3,561.6 602.8,561.6 603.3,561.6 603.8,561.6 604.3,561.5 604.8,561.5 605.3,561.5 605.8,561.5 606.3,561.5 606.8,561.5 607.3,561.5 607.8,561.5 608.3,561.5 608.8,561.4 609.3,561.4 609.8,561.4 610.3,561.4 610.8,561.4 611.3,561.4 611.8,561.4 612.3,561.3 612.8,561.3 613.3,561.3 613.8,561.3 614.3,561.3 614.8,561.3 615.3,561.2 615.8,561.2 616.3,561.2 616.8,561.2 617.3,561.1 617.8,561.1 618.3,561.1 618.8,561.1 619.3,561.0 619.8,561.0 620.3,561.0 620.8,561.0 621.3,560.9 621.8,560.9 622.3,560.9 622.8,560.8 623.3,560.8 623.8,560.8 624.3,560.7 624.8,560.7 625.3,560.6 625.8,560.6 626.3,560.6 626.8,560.5 627.3,560.5 627.8,560.4 628.3,560.4 628.8,560.4 629.3,560.3 629.8,560.3 630.3,560.2 630.8,560.2 631.3,560.1 631.8,560.1 632.3,560.1 632.8,560.0 633.3,560.0 633.8,559.9 634.3,559.9 634.8,559.8 635.3,559.8 635.8,559.7 636.3,559.7 636.8,559.6 637.3,559.6 637.8,559.5 638.3,559.5 638.8,559.4 639.3,559.4 639.8,559.3 640.3,559.3 640.8,559.2 641.3,559.2 641.8,559.1 642.3,559.1 642.8,559.0 643.3,559.0 643.8,558.9 644.3,558.9 644.8,558.8 645.3,558.7 645.8,558.7 646.3,558.6 646.8,558.6 647.3,558.5 647.8,558.5 648.3,558.4 648.8,558.4 649.3,558.3 649.8,558.3 650.3,558.2 650.8,558.2 651.3,558.1 651.8,558.1 652.3,558.0 652.8,558.0 653.3,557.9 653.8,557.9 654.3,557.8 654.8,557.8 655.3,557.7 655.8,557.7 656.3,557.6 656.8,557.6 657.3,557.5 657.8,557.5 658.3,557.4 658.8,557.4 659.3,557.3 659.8,557.3 660.3,557.2 660.8,557.2 661.3,557.1 661.8,557.0 662.3,557.0 662.8,556.9 663.3,556.9 663.8,556.8 664.3,556.8 664.8,556.7 665.3,556.7 665.8,556.6 666.3,556.6 666.8,556.5 667.3,556.4 667.8,556.4 668.3,556.3 668.8,556.3 669.3,556.2 669.8,556.2 670.3,556.1 670.8,556.0 671.3,556.0 671.8,555.9 672.3,555.9 672.8,555.8 673.3,555.7 673.8,555.7 674.3,555.6 674.8,555.5 675.3,555.5 675.8,555.4 676.3,555.3 676.8,555.3 677.3,555.2 677.8,555.1 678.3,555.0 678.8,555.0 679.3,554.9 679.8,554.8 680.3,554.8 680.8,554.7 681.3,554.6 681.8,554.5 682.3,554.4 682.8,554.4 683.3,554.3 683.8,554.2 684.3,554.1 684.8,554.0 685.3,553.9 685.8,553.8 686.3,553.7 686.8,553.6 687.3,553.5 687.8,553.3 688.3,553.2 688.8,553.0 689.3,552.9 689.8,552.7 690.3,552.5 690.8,552.4 691.3,552.2 691.8,552.1 692.3,551.9 692.8,551.8 693.3,551.6 693.8,551.5 694.3,551.4 694.8,551.3 695.3,551.2 695.8,551.1 696.3,551.1 696.8,551.0 697.3,551.0 697.8,551.0 698.3,551.1 698.8,551.3 699.3,551.5 699.8,551.7 700.3,551.9 700.8,552.0 701.3,552.0 701.8,551.8 702.3,551.5 702.8,551.1 703.3,550.7 703.8,550.2 704.3,549.8 704.8,549.4 705.3,549.0 705.8,548.8 706.3,548.8 706.8,548.9 707.3,549.3 707.8,549.9 708.3,550.5 708.8,551.0 709.3,551.5 709.8,551.7 710.3,551.7 710.8,551.7 711.3,551.7 711.8,551.7 712.3,551.7 712.8,551.7 713.3,551.7 713.8,551.6 714.3,551.6 714.8,551.6 715.3,551.5 715.8,551.5 716.3,551.4 716.8,551.4 717.3,551.3 717.8,551.3 718.3,551.2 718.8,551.2 719.3,551.1 719.8,551.0 720.3,551.0 720.8,550.9 721.3,550.8 721.8,550.8 722.3,550.7 722.8,550.6 723.3,550.5 723.8,550.5 724.3,550.4 724.8,550.3 725.3,550.2 725.8,550.2 726.3,550.1 726.8,550.0 727.3,549.9 727.8,549.8 728.3,549.8 728.8,549.7 729.3,549.6 729.8,549.5 730.3,549.5 730.8,549.4 731.3,549.3 731.8,549.2 732.3,549.1 732.8,549.0 733.3,548.9 733.8,548.8 734.3,548.7 734.8,548.6 735.3,548.5 735.8,548.4 736.3,548.2 736.8,548.1 737.3,548.0 737.8,547.9 738.3,547.7 738.8,547.6 739.3,547.5 739.8,547.4 740.3,547.2 740.8,547.1 741.3,547.0 741.8,546.9 742.3,546.7 742.8,546.6 743.3,546.5 743.8,546.4 744.3,546.2 744.8,546.1 745.3,546.0 745.8,545.9 746.3,545.8 746.8,545.7 747.3,545.5 747.8,545.4 748.3,545.3 748.8,545.2 749.3,545.1 749.8,545.0 750.3,544.8 750.8,544.7 751.3,544.6 751.8,544.5 752.3,544.3 752.8,544.2 753.3,544.1 753.8,544.0 754.3,543.9 754.8,543.8 755.3,543.6 755.8,543.5 756.3,543.4 756.8,543.4 757.3,543.3 757.8,543.2 758.3,543.1 758.8,543.1 759.3,543.0 759.8,543.0 760.3,543.0 760.8,543.0 761.3,542.9 761.8,542.9 762.3,542.9 762.8,542.9 763.3,542.9 763.8,542.8 764.3,542.8 764.8,542.8 765.3,542.8 765.8,542.8 766.3,542.8 766.8,542.7 767.3,542.7 767.8,542.7 768.3,542.7 768.8,542.7 769.3,542.7 769.8,542.6 770.3,542.6 770.8,542.6 771.3,542.6 771.8,542.6 772.3,542.6 772.8,542.6 773.3,542.6 773.8,542.6 774.3,542.6 774.8,542.5 775.3,542.5 775.8,542.5 776.3,542.5 776.8,542.5 777.3,542.5 777.8,542.5 778.3,542.5 778.8,542.5 779.3,542.5 779.8,542.5 780.3,542.5 780.8,542.5 781.3,542.5 781.8,542.5 782.3,542.5 782.8,542.5 783.3,542.5 783.8,542.5 784.3,542.5 784.8,542.5 785.3,542.5 785.8,542.5 786.3,542.5 786.8,542.5 787.3,542.5 787.8,542.5 788.3,542.6 788.8,542.6 789.3,542.6 789.8,542.6 790.3,542.6 790.8,542.6 791.3,542.6 791.8,542.6 792.3,542.6 792.8,542.6 793.3,542.7 793.8,542.7 794.3,542.7 794.8,542.7 795.3,542.7 795.8,542.7 796.3,542.7 796.8,542.8 797.3,542.8 797.8,542.8 798.3,542.8 798.8,542.8 799.3,542.8 799.8,542.9 800.3,542.9 800.8,542.9 801.3,542.9 801.8,542.9 802.3,542.9 802.8,543.0 803.3,543.0 803.8,543.0 804.3,543.1 804.8,543.1 805.3,543.2 805.8,543.3 806.3,543.3 806.8,543.5 807.3,543.6 807.8,543.7 808.3,543.8 808.8,544.0 809.3,544.1 809.8,544.3 810.3,544.5 810.8,544.6 811.3,544.8 811.8,545.0 812.3,545.2 812.8,545.4 813.3,545.6 813.8,545.8 814.3,546.0 814.8,546.2 815.3,546.5 815.8,546.7 816.3,546.9 816.8,547.1 817.3,547.3 817.8,547.5 818.3,547.7 818.8,547.9 819.3,548.1 819.8,548.3 820.3,548.5 820.8,548.7 821.3,548.9 821.8,549.0 822.3,549.2 822.8,549.4 823.3,549.6 823.8,549.8 824.3,550.0 824.8,550.1 825.3,550.3 825.8,550.5 826.3,550.7 826.8,550.9 827.3,551.1 827.8,551.3 828.3,551.5 828.8,551.7 829.3,551.9 829.8,552.1 830.3,552.3 830.8,552.5 831.3,552.7 831.8,552.9 832.3,553.1 832.8,553.3 833.3,553.5 833.8,553.7 834.3,553.9 834.8,554.1 835.3,554.3 835.8,554.5 836.3,554.7 836.8,554.8 837.3,555.0 837.8,555.2 838.3,555.4 838.8,555.6 839.3,555.8 839.8,556.0 840.3,556.2 840.8,556.4 841.3,556.6 841.8,556.9 842.3,557.1 842.8,557.3 843.3,557.5 843.8,557.7 844.3,558.0 844.8,558.2 845.3,558.4 845.8,558.6 846.3,558.8 846.8,559.1 847.3,559.3 847.8,559.5 848.3,559.7 848.8,559.9 849.3,560.1 849.8,560.3 850.3,560.5 850.8,560.6 851.3,560.8 851.8,561.0 852.3,561.1 852.8,561.3 853.3,561.4 853.8,561.6 854.3,561.7 854.8,561.8 855.3,561.9 855.8,562.0 856.3,562.0 856.8,562.1 857.3,562.2 857.8,562.3 858.3,562.3 858.8,562.4 859.3,562.5 859.8,562.6 860.3,562.6 860.8,562.7 861.3,562.8 861.8,562.8 862.3,562.9 862.8,562.9 863.3,563.0 863.8,563.0 864.3,563.1 864.8,563.1 865.3,563.1 865.8,563.2 866.3,563.2 866.8,563.2 867.3,563.2 867.8,563.2 868.3,563.2 868.8,563.2 869.3,563.2 869.8,563.2 870.3,563.2 870.8,563.2 871.3,563.2 871.8,563.2 872.3,563.2 872.8,563.2 873.3,563.2 873.8,563.2 874.3,563.2 874.8,563.2 875.3,563.2 875.8,563.2 876.3,563.2 876.8,563.2 877.3,563.2 877.8,563.2 878.3,563.2 878.8,563.2 879.3,563.2 879.8,563.2 880.3,563.2 880.8,563.2 881.3,563.2 881.8,563.2 882.3,563.2 882.8,563.2 883.3,563.2 883.8,563.2 884.3,563.2 884.8,563.2 885.3,563.2 885.8,563.2 886.3,563.2 886.8,563.2 887.3,563.2 887.8,563.2 888.3,563.2 888.8,563.2 889.3,563.2 889.8,563.2 890.3,563.2 890.8,563.2 891.3,563.2 891.8,563.2 892.3,563.2 892.8,563.2 893.3,563.2 893.8,563.2 894.3,563.2 894.8,563.2 895.3,563.2 895.8,563.2 896.3,563.2 896.8,563.2 897.3,563.2 897.8,563.2 898.3,563.2 898.8,563.2 899.3,563.2 899.8,563.2 900.3,563.2 900.8,563.2 901.3,563.2 901.8,563.2 902.3,563.2 902.8,563.2 903.3,563.2 903.8,563.2 904.3,563.2 904.8,563.2 905.3,563.2 905.8,563.2 906.3,563.2 906.8,563.2 907.3,563.2 907.8,563.2 908.3,563.2 908.8,563.2 909.3,563.2 909.8,563.2 910.3,563.2 910.8,563.2 911.3,563.2 911.8,563.2 912.3,563.2 912.8,563.2 913.3,563.2 913.8,563.2 914.3,563.2 914.8,563.1 915.3,563.1 915.8,563.1 916.3,563.1 916.8,563.1 917.3,563.1 917.8,563.1 918.3,563.1 918.8,563.1 919.3,563.1 919.8,563.1 920.3,563.1 920.8,563.1 921.3,563.1 921.8,563.1 922.3,563.1 922.8,563.1 923.3,563.1 923.8,563.1 924.3,563.1 924.8,563.1 925.3,563.1 925.8,563.1 926.3,563.1 926.8,563.0 927.3,563.0 927.8,563.0 928.3,563.0 928.8,563.0 929.3,563.0 929.8,563.0 930.3,563.0 930.8,563.0"/>
<path stroke="#0000ff" stroke-width="4.0" d="M151.6,567.5L151.6,-5.0L152.4,-5.0 152.9,11.5 153.4,24.5 153.9,34.1 154.4,58.0 154.9,60.6 155.4,61.8 155.9,62.7 156.4,63.8 156.9,64.7 157.4,66.5 157.9,77.2 158.4,88.3 158.9,94.6 159.4,101.6 159.9,111.0 160.4,121.1 160.9,131.0 161.4,141.9 161.9,152.7 162.4,162.4 162.9,169.9 163.4,174.7 163.9,178.1 164.4,181.3 164.9,185.1 165.4,190.4 165.9,197.0 166.4,204.4 166.9,212.1 167.4,219.6 167.9,226.8 168.4,234.2 168.9,241.8 169.4,249.2 169.9,256.5 170.4,263.4 170.9,269.8 171.4,275.6 171.9,280.9 172.4,285.8 172.9,290.6 173.4,295.2 173.9,299.9 174.4,304.8 174.9,309.9 175.4,315.6 175.9,321.8 176.4,328.1 176.9,334.0 177.4,339.1 177.9,343.4 178.4,347.5 178.9,351.3 179.4,355.0 179.9,358.5 180.4,361.7 180.9,364.7 181.4,367.5 181.9,369.9 182.4,372.1 182.9,374.1 183.4,376.2 183.9,378.0 184.4,379.3 184.9,380.0 185.4,379.9 185.9,379.3 186.4,378.5 186.9,377.4 187.4,376.0 187.9,374.5 188.4,372.8 188.9,371.1 189.4,369.4 189.9,367.8 190.4,366.2 190.9,364.3 191.4,362.3 191.9,360.1 192.4,357.8 192.9,355.4 193.4,353.1 193.9,350.7 194.4,348.4 194.9,346.2 195.4,344.2 195.9,342.3 196.4,340.7 196.9,339.3 197.4,337.8 197.9,336.2 198.4,334.6 198.9,333.0 199.4,331.3 199.9,329.6 200.4,327.9 200.9,326.2 201.4,324.5 201.9,322.7 202.4,320.9 202.9,319.1 203.4,317.2 203.9,315.3 204.4,313.4 204.9,311.4 205.4,309.3 205.9,307.1 206.4,304.9 206.9,302.6 207.4,300.4 207.9,298.4 208.4,296.4 208.9,294.4 209.4,292.5 209.9,290.7 210.4,288.8 210.9,287.0 211.4,285.2 211.9,283.3 212.4,281.5 212.9,279.6 213.4,277.6 213.9,275.6 214.4,273.6 214.9,271.4 215.4,269.2 215.9,267.0 216.4,264.7 216.9,262.4 217.4,260.0 217.9,257.5 218.4,254.9 218.9,252.3 219.4,249.5 219.9,246.6 220.4,243.5 220.9,240.1 221.4,236.5 221.9,232.6 222.4,228.7 222.9,224.7 223.4,220.7 223.9,216.7 224.4,212.9 224.9,209.2 225.4,205.8 225.9,202.5 226.4,199.2 226.9,196.0 227.4,192.6 227.9,189.0 228.4,183.9 228.9,182.5 229.4,187.9 229.9,193.7 230.4,200.3 230.9,207.2 231.4,213.7 231.9,220.0 232.4,226.3 232.9,233.0 233.4,240.3 233.9,248.7 234.4,259.3 234.9,271.3 235.4,283.4 235.9,294.1 236.4,303.3 236.9,312.5 237.4,321.2 237.9,328.7 238.4,334.6 238.9,338.5 239.4,341.5 239.9,343.8 240.4,345.0 240.9,344.5 241.4,342.8 241.9,340.1 242.4,336.6 242.9,332.5 243.4,328.1 243.9,323.6 244.4,317.4 244.9,310.1 245.4,301.6 245.9,291.5 246.4,280.7 246.9,270.0 247.4,260.3 247.9,251.5 248.4,242.7 248.9,234.3 249.4,227.2 249.9,221.8 250.4,218.1 250.9,214.9 251.4,212.2 251.9,210.1 252.4,208.7 252.9,207.9 253.4,207.1 253.9,206.6 254.4,206.2 254.9,206.0 255.4,206.1 255.9,206.4 256.4,206.9 256.9,207.6 257.4,208.4 257.9,209.3 258.4,210.3 258.9,211.3 259.4,212.8 259.9,214.8 260.4,217.1 260.9,219.7 261.4,222.5 261.9,225.3 262.4,228.0 262.9,230.7 263.4,233.5 263.9,236.5 264.4,239.6 264.9,242.7 265.4,245.9 265.9,249.0 266.4,252.1 266.9,255.1 267.4,258.0 267.9,260.7 268.4,263.4 268.9,266.2 269.4,268.9 269.9,271.5 270.4,274.1 270.9,276.6 271.4,278.9 271.9,281.1 272.4,283.1 272.9,285.0 273.4,286.9 273.9,288.8 274.4,290.6 274.9,292.4 275.4,294.0 275.9,295.4 276.4,296.7 276.9,297.7 277.4,298.4 277.9,298.9 278.4,299.2 278.9,299.5 279.4,299.7 279.9,299.9 280.4,300.1 280.9,300.4 281.4,300.6 281.9,301.0 282.4,301.4 282.9,302.0 283.4,303.0 283.9,304.3 284.4,305.8 284.9,307.6 285.4,309.5 285.9,311.6 286.4,313.8 286.9,316.5 287.4,319.7 287.9,323.4 288.4,327.7 288.9,332.7 289.4,340.4 289.9,348.6 290.4,355.2 290.9,361.5 291.4,367.6 291.9,373.4 292.4,378.9 292.9,384.1 293.4,388.9 293.9,393.3 294.4,397.5 294.9,401.4 295.4,405.1 295.9,408.6 296.4,411.8 296.9,414.7 297.4,417.6 297.9,420.5 298.4,423.2 298.9,425.4 299.4,426.8 299.9,427.3 300.4,427.7 300.9,428.0 301.4,428.3 301.9,428.5 302.4,428.7 302.9,429.0 303.4,429.4 303.9,429.9 304.4,430.5 304.9,431.2 305.4,432.1 305.9,433.2 306.4,435.0 306.9,437.7 307.4,440.9 307.9,444.5 308.4,447.9 308.9,451.2 309.4,454.6 309.9,458.2 310.4,461.9 310.9,465.7 311.4,469.9 311.9,474.6 312.4,479.5 312.9,484.1 313.4,488.2 313.9,491.3 314.4,494.2 314.9,496.7 315.4,499.1 315.9,501.4 316.4,503.4 316.9,505.4 317.4,507.4 317.9,509.3 318.4,511.1 318.9,512.9 319.4,514.6 319.9,516.3 320.4,517.9 320.9,519.5 321.4,521.0 321.9,522.5 322.4,524.0 322.9,525.4 323.4,526.8 323.9,528.2 324.4,529.6 324.9,530.9 325.4,532.3 325.9,533.7 326.4,535.1 326.9,536.4 327.4,537.6 327.9,538.8 328.4,540.0 328.9,541.0 329.4,541.9 329.9,542.8 330.4,543.5 330.9,544.2 331.4,544.9 331.9,545.6 332.4,546.2 332.9,546.8 333.4,547.3 333.9,547.7 334.4,548.1 334.9,548.3 335.4,548.3 335.9,548.0 336.4,547.4 336.9,546.5 337.4,543.9 337.9,530.7 338.4,515.2 338.9,508.3 339.4,505.0 339.9,503.6 340.4,505.5 340.9,509.9 341.4,517.8 341.9,533.1 342.4,543.0 342.9,545.3 343.4,547.1 343.9,548.4 344.4,549.2 344.9,549.6 345.4,549.6 345.9,549.6 346.4,549.6 346.9,549.6 347.4,549.6 347.9,549.6 348.4,549.6 348.9,549.6 349.4,549.6 349.9,549.6 350.4,549.6 350.9,549.6 351.4,549.6 351.9,549.6 352.4,549.6 352.9,549.6 353.4,549.5 353.9,549.4 354.4,549.3 354.9,549.2 355.4,549.1 355.9,548.9 356.4,548.8 356.9,548.6 357.4,548.4 357.9,548.2 358.4,548.1 358.9,547.9 359.4,547.7 359.9,547.5 360.4,547.4 360.9,547.2 361.4,546.9 361.9,546.7 362.4,546.4 362.9,546.1 363.4,545.8 363.9,545.5 364.4,545.2 364.9,544.9 365.4,544.6 365.9,544.3 366.4,544.1 366.9,543.8 367.4,543.6 367.9,543.4 368.4,543.2 368.9,543.1 369.4,543.0 369.9,543.0 370.4,543.0 370.9,543.0 371.4,543.0 371.9,543.1 372.4,543.1 372.9,543.1 373.4,543.2 373.9,543.2 374.4,543.3 374.9,543.4 375.4,543.4 375.9,543.5 376.4,543.6 376.9,543.7 377.4,543.7 377.9,543.8 378.4,544.0 378.9,544.3 379.4,544.5 379.9,544.9 380.4,545.3 380.9,545.7 381.4,546.1 381.9,546.5 382.4,547.0 382.9,547.4 383.4,547.9 383.9,548.3 384.4,548.7 384.9,549.0 385.4,549.3 385.9,549.6 386.4,549.8 386.9,549.9 387.4,550.0 387.9,550.0 388.4,550.0 388.9,550.0 389.4,550.0 389.9,550.0 390.4,550.0 390.9,550.0 391.4,550.0 391.9,550.0 392.4,550.0 392.9,550.0 393.4,550.0 393.9,550.0 394.4,550.0 394.9,550.0 395.4,550.0 395.9,550.0 396.4,550.0 396.9,550.0 397.4,550.0 397.9,550.0 398.4,549.9 398.9,549.8 399.4,549.6 399.9,549.4 400.4,549.2 400.9,548.9 401.4,548.6 401.9,548.3 402.4,548.0 402.9,547.7 403.4,547.3 403.9,547.0 404.4,546.6 404.9,546.3 405.4,546.0 405.9,545.7 406.4,545.5 406.9,545.2 407.4,545.0 407.9,544.9 408.4,544.7 408.9,544.5 409.4,544.3 409.9,544.1 410.4,544.0 410.9,543.8 411.4,543.6 411.9,543.5 412.4,543.4 412.9,543.2 413.4,543.1 413.9,543.1 414.4,543.0 414.9,543.0 415.4,543.0 415.9,543.0 416.4,543.1 416.9,543.2 417.4,543.3 417.9,543.4 418.4,543.6 418.9,543.8 419.4,543.9 419.9,544.1 420.4,544.3 420.9,544.5 421.4,544.8 421.9,545.0 422.4,545.2 422.9,545.4 423.4,545.6 423.9,545.8 424.4,546.0 424.9,546.2 425.4,546.4 425.9,546.6 426.4,546.8 426.9,547.0 427.4,547.2 427.9,547.4 428.4,547.6 428.9,547.8 429.4,548.0 429.9,548.2 430.4,548.4 430.9,548.6 431.4,548.8 431.9,549.1 432.4,549.3 432.9,549.5 433.4,549.7 433.9,549.9 434.4,550.2 434.9,550.4 435.4,550.6 435.9,550.8 436.4,551.0 436.9,551.2 437.4,551.4 437.9,551.7 438.4,551.9 438.9,552.1 439.4,552.3 439.9,552.5 440.4,552.7 440.9,552.9 441.4,553.1 441.9,553.3 442.4,553.5 442.9,553.7 443.4,553.9 443.9,554.2 444.4,554.4 444.9,554.6 445.4,554.8 445.9,555.1 446.4,555.3 446.9,555.5 447.4,555.7 447.9,555.9 448.4,556.1 448.9,556.3 449.4,556.5 449.9,556.7 450.4,556.9 450.9,557.1 451.4,557.2 451.9,557.4 452.4,557.5 452.9,557.6 453.4,557.7 453.9,557.8 454.4,557.9 454.9,558.0 455.4,558.0 455.9,558.1 456.4,558.2 456.9,558.2 457.4,558.3 457.9,558.3 458.4,558.3 458.9,558.4 459.4,558.4 459.9,558.5 460.4,558.5 460.9,558.5 461.4,558.6 461.9,558.6 462.4,558.7 462.9,558.7 463.4,558.7 463.9,558.7 464.4,558.8 464.9,558.8 465.4,558.8 465.9,558.9 466.4,558.9 466.9,558.9 467.4,558.9 467.9,559.0 468.4,559.0 468.9,559.0 469.4,559.0 469.9,559.1 470.4,559.1 470.9,559.1 471.4,559.1 471.9,559.2 472.4,559.2 472.9,559.2 473.4,559.2 473.9,559.2 474.4,559.3 474.9,559.3 475.4,559.3 475.9,559.3 476.4,559.4 476.9,559.4 477.4,559.4 477.9,559.4 478.4,559.5 478.9,559.5 479.4,559.5 479.9,559.5 480.4,559.6 480.9,559.6 481.4,559.6 481.9,559.6 482.4,559.7 482.9,559.7 483.4,559.7 483.9,559.8 484.4,559.8 484.9,559.9 485.4,559.9 485.9,560.0 486.4,560.0 486.9,560.1 487.4,560.2 487.9,559.7 488.4,559.6 488.9,561.4 489.4,560.8 489.9,563.7 490.4,563.3 490.9,562.7 491.4,566.3 491.9,563.3 492.4,560.8 492.9,566.8 493.4,560.1 493.9,564.0 494.4,564.5 494.9,563.4 495.4,560.6 495.9,565.0 496.4,561.2 496.9,561.4 497.4,562.9 497.9,564.7 498.4,563.9 498.9,564.6 499.4,562.4 499.9,562.8 500.4,561.3 500.9,563.0 501.4,565.0 501.9,564.2 502.4,565.6 502.9,563.5 503.4,562.6 503.9,562.6 504.4,561.4 504.9,562.1 505.4,561.2 505.9,562.9 506.4,560.4 506.9,560.4 507.4,560.1 507.9,560.4 508.4,560.3 508.9,560.3 509.4,560.3 509.9,560.3 510.4,560.2 510.9,560.2 511.4,560.2 511.9,560.2 512.4,560.2 512.9,560.2 513.4,560.2 513.9,560.2 514.4,560.2 514.9,560.2 515.4,560.2 515.9,560.2 516.4,560.2 516.9,560.2 517.4,560.2 517.9,560.2 518.4,560.2 518.9,560.2 519.4,560.2 519.9,560.2 520.4,560.2 520.9,560.2 521.4,560.2 521.9,560.2 522.4,560.2 522.9,560.2 523.4,560.2 523.9,560.2 524.4,560.2 524.9,560.3 525.4,560.3 525.9,560.4 526.4,560.5 526.9,560.4 527.4,560.8 527.9,561.8 528.4,561.2 528.9,560.8 529.4,563.6 529.9,562.8 530.4,564.0 530.9,566.1 531.4,567.0 531.9,565.5 532.4,565.6 532.9,566.8 533.4,565.6 533.9,562.0 534.4,566.2 534.9,563.5 535.4,564.0 535.9,560.5 536.4,564.0 536.9,560.7 537.4,561.1 537.9,558.8 538.4,560.5 538.9,560.3 539.4,560.2 539.9,560.5 540.4,560.2 540.9,560.0 541.4,560.0 541.9,559.9 542.4,559.9 542.9,559.9 543.4,559.9 543.9,559.8 544.4,559.8 544.9,559.8 545.4,559.8 545.9,559.8 546.4,559.8 546.9,559.7 547.4,559.7 547.9,559.7 548.4,559.7 548.9,559.7 549.4,559.6 549.9,559.6 550.4,559.6 550.9,559.6 551.4,559.6 551.9,559.5 552.4,559.5 552.9,559.5 553.4,559.4 553.9,559.4 554.4,559.4 554.9,559.4 555.4,559.3 555.9,559.3 556.4,559.3 556.9,559.3 557.4,559.2 557.9,559.2 558.4,559.2 558.9,559.1 559.4,559.1 559.9,559.1 560.4,559.1 560.9,559.0 561.4,559.0 561.9,559.1 562.4,559.3 562.9,559.2 563.4,558.4 563.9,559.0 564.4,559.3 564.9,558.9 565.4,558.7 565.9,558.9 566.4,558.7 566.9,559.0 567.4,558.8 567.9,559.2 568.4,558.9 568.9,558.5 569.4,558.9 569.9,559.0 570.4,558.5 570.9,558.5 571.4,558.0 571.9,558.9 572.4,558.4 572.9,558.0 573.4,558.1 573.9,558.5 574.4,558.8 574.9,558.5 575.4,558.7 575.9,558.2 576.4,558.1 576.9,558.7 577.4,558.6 577.9,558.4 578.4,558.8 578.9,558.1 579.4,558.3 579.9,558.7 580.4,558.9 580.9,558.4 581.4,558.8 581.9,558.1 582.4,558.4 582.9,558.2 583.4,557.8 583.9,558.3 584.4,558.5 584.9,558.2 585.4,558.2 585.9,558.6 586.4,557.8 586.9,557.7 587.4,557.9 587.9,557.8 588.4,558.5 588.9,558.2 589.4,557.8 589.9,557.9 590.4,558.9 590.9,557.8 591.4,557.8 591.9,558.1 592.4,558.1 592.9,558.0 593.4,557.6 593.9,557.6 594.4,558.1 594.9,557.8 595.4,557.3 595.9,558.2 596.4,558.0 596.9,557.7 597.4,557.7 597.9,557.8 598.4,557.5 598.9,557.3 599.4,557.8 599.9,557.2 600.4,557.7 600.9,557.2 601.4,557.5 601.9,557.5 602.4,558.0 602.9,557.2 603.4,557.0 603.9,557.2 604.4,557.1 604.9,557.2 605.4,557.5 605.9,557.5 606.4,557.8 606.9,557.0 607.4,558.0 607.9,557.8 608.4,557.1 608.9,556.4 609.4,557.0 609.9,557.1 610.4,556.3 610.9,557.0 611.4,556.9 611.9,556.7 612.4,557.0 612.9,557.1 613.4,556.6 613.9,556.8 614.4,556.5 614.9,556.4 615.4,556.6 615.9,556.7 616.4,556.4 616.9,555.8 617.4,556.6 617.9,555.9 618.4,556.4 618.9,556.8 619.4,556.3 619.9,555.9 620.4,555.7 620.9,556.5 621.4,556.1 621.9,556.2 622.4,556.3 622.9,555.9 623.4,555.8 623.9,555.5 624.4,554.9 624.9,555.3 625.4,555.7 625.9,555.6 626.4,555.7 626.9,555.5 627.4,555.5 627.9,555.6 628.4,555.1 628.9,555.2 629.4,554.8 629.9,555.5 630.4,555.1 630.9,555.2 631.4,555.5 631.9,555.3 632.4,554.9 632.9,555.1 633.4,554.4 633.9,554.9 634.4,554.7 634.9,554.1 635.4,555.0 635.9,554.3 636.4,554.6 636.9,554.3 637.4,554.6 637.9,554.7 638.4,553.9 638.9,553.7 639.4,554.0 639.9,554.3 640.4,553.8 640.9,553.7 641.4,554.0 641.9,552.9 642.4,553.5 642.9,553.2 643.4,553.6 643.9,553.3 644.4,553.1 644.9,553.2 645.4,552.8 645.9,553.2 646.4,552.9 646.9,552.9 647.4,552.7 647.9,553.1 648.4,552.7 648.9,552.8 649.4,552.7 649.9,552.3 650.4,552.6 650.9,552.4 651.4,552.3 651.9,552.0 652.4,551.9 652.9,552.2 653.4,552.5 653.9,551.6 654.4,551.9 654.9,551.5 655.4,551.8 655.9,551.6 656.4,551.6 656.9,550.4 657.4,551.0 657.9,550.7 658.4,550.9 658.9,550.6 659.4,550.5 659.9,550.8 660.4,551.1 660.9,549.6 661.4,550.2 661.9,550.3 662.4,550.1 662.9,549.9 663.4,549.5 663.9,549.5 664.4,549.9 664.9,549.9 665.4,549.5 665.9,549.1 666.4,549.3 666.9,549.1 667.4,549.2 667.9,549.0 668.4,548.7 668.9,548.8 669.4,548.3 669.9,548.8 670.4,548.8 670.9,548.0 671.4,548.4 671.9,547.8 672.4,548.3 672.9,548.2 673.4,547.7 673.9,548.0 674.4,547.4 674.9,547.3 675.4,547.1 675.9,547.1 676.4,547.0 676.9,547.0 677.4,546.6 677.9,546.9 678.4,546.8 678.9,546.2 679.4,545.8 679.9,546.3 680.4,546.3 680.9,545.7 681.4,545.3 681.9,545.6 682.4,545.8 682.9,544.7 683.4,545.2 683.9,544.8 684.4,544.5 684.9,544.8 685.4,544.1 685.9,544.5 686.4,544.6 686.9,544.2 687.4,543.7 687.9,543.3 688.4,543.3 688.9,543.1 689.4,544.0 689.9,543.3 690.4,543.0 690.9,542.8 691.4,542.7 691.9,542.9 692.4,542.5 692.9,543.3 693.4,542.5 693.9,542.4 694.4,542.7 694.9,542.9 695.4,542.9 695.9,542.3 696.4,542.5 696.9,542.4 697.4,542.5 697.9,542.3 698.4,542.1 698.9,542.1 699.4,542.2 699.9,542.1 700.4,542.1 700.9,542.0 701.4,541.9 701.9,541.7 702.4,541.3 702.9,540.9 703.4,540.5 703.9,540.0 704.4,539.6 704.9,539.2 705.4,539.0 705.9,538.8 706.4,538.8 706.9,539.0 707.4,539.6 707.9,540.3 708.4,541.0 708.9,541.7 709.4,542.2 709.9,542.5 710.4,542.5 710.9,542.5 711.4,542.5 711.9,542.4 712.4,542.4 712.9,542.4 713.4,542.3 713.9,542.3 714.4,542.2 714.9,542.2 715.4,542.1 715.9,542.1 716.4,542.0 716.9,541.9 717.4,541.8 717.9,541.8 718.4,541.7 718.9,541.6 719.4,541.5 719.9,541.4 720.4,541.3 720.9,541.2 721.4,541.1 721.9,541.0 722.4,541.0 722.9,540.9 723.4,540.8 723.9,540.7 724.4,540.6 724.9,540.5 725.4,540.4 725.9,540.3 726.4,540.2 726.9,540.1 727.4,540.0 727.9,539.9 728.4,539.8 728.9,539.8 729.4,539.7 729.9,539.6 730.4,539.5 730.9,539.4 731.4,539.3 731.9,539.2 732.4,539.1 732.9,539.0 733.4,538.9 733.9,538.8 734.4,538.7 734.9,538.6 735.4,538.5 735.9,538.4 736.4,538.3 736.9,538.2 737.4,538.1 737.9,538.0 738.4,537.9 738.9,537.7 739.4,537.6 739.9,537.5 740.4,537.4 740.9,537.3 741.4,537.2 741.9,537.0 742.4,536.9 742.9,536.8 743.4,536.7 743.9,536.5 744.4,536.4 744.9,536.3 745.4,536.1 745.9,536.0 746.4,535.8 746.9,535.6 747.4,535.5 747.9,535.3 748.4,535.1 748.9,534.9 749.4,534.7 749.9,534.5 750.4,534.3 750.9,534.1 751.4,533.9 751.9,533.7 752.4,533.6 752.9,533.4 753.4,533.3 753.9,533.2 754.4,533.1 754.9,533.0 755.4,533.0 755.9,532.9 756.4,532.8 756.9,532.8 757.4,532.7 757.9,532.7 758.4,532.6 758.9,532.6 759.4,532.5 759.9,532.5 760.4,532.4 760.9,532.4 761.4,532.4 761.9,532.3 762.4,532.3 762.9,532.3 763.4,532.2 763.9,532.2 764.4,532.2 764.9,532.1 765.4,532.1 765.9,532.1 766.4,532.1 766.9,532.1 767.4,532.0 767.9,532.0 768.4,532.0 768.9,532.0 769.4,532.0 769.9,532.0 770.4,532.0 770.9,532.0 771.4,532.0 771.9,532.1 772.4,532.1 772.9,532.1 773.4,532.2 773.9,532.2 774.4,532.3 774.9,532.4 775.4,532.4 775.9,532.5 776.4,532.5 776.9,532.6 777.4,532.7 777.9,532.7 778.4,532.8 778.9,532.8 779.4,532.9 779.9,532.9 780.4,533.0 780.9,533.0 781.4,533.0 781.9,533.0 782.4,533.0 782.9,533.0 783.4,533.0 783.9,533.0 784.4,533.0 784.9,533.0 785.4,532.9 785.9,532.9 786.4,532.9 786.9,532.9 787.4,532.9 787.9,532.9 788.4,532.8 788.9,532.8 789.4,532.8 789.9,532.8 790.4,532.7 790.9,532.7 791.4,532.7 791.9,532.7 792.4,532.7 792.9,532.6 793.4,532.6 793.9,532.6 794.4,532.6 794.9,532.6 795.4,532.5 795.9,532.5 796.4,532.5 796.9,532.5 797.4,532.5 797.9,532.5 798.4,532.5 798.9,532.5 799.4,532.5 799.9,532.6 800.4,532.6 800.9,532.7 801.4,532.7 801.9,532.8 802.4,532.9 802.9,533.0 803.4,533.1 803.9,533.2 804.4,533.3 804.9,533.4 805.4,533.6 805.9,533.7 806.4,533.8 806.9,534.0 807.4,534.1 807.9,534.3 808.4,534.4 808.9,534.6 809.4,534.8 809.9,534.9 810.4,535.1 810.9,535.2 811.4,535.4 811.9,535.5 812.4,535.7 812.9,535.8 813.4,536.0 813.9,536.1 814.4,536.3 814.9,536.4 815.4,536.5 815.9,536.7 816.4,536.8 816.9,537.0 817.4,537.1 817.9,537.3 818.4,537.4 818.9,537.6 819.4,537.7 819.9,537.9 820.4,538.1 820.9,538.2 821.4,538.4 821.9,538.6 822.4,538.7 822.9,538.9 823.4,539.1 823.9,539.3 824.4,539.4 824.9,539.6 825.4,539.8 825.9,540.0 826.4,540.2 826.9,540.4 827.4,540.6 827.9,540.7 828.4,540.9 828.9,541.1 829.4,541.3 829.9,541.5 830.4,541.7 830.9,542.0 831.4,542.2 831.9,542.4 832.4,542.6 832.9,542.8 833.4,543.1 833.9,543.3 834.4,543.6 834.9,543.8 835.4,544.1 835.9,544.4 836.4,544.6 836.9,544.9 837.4,545.2 837.9,545.4 838.4,545.7 838.9,546.0 839.4,546.3 839.9,546.6 840.4,546.8 840.9,547.1 841.4,547.4 841.9,547.7 842.4,548.0 842.9,548.3 843.4,548.6 843.9,548.8 844.4,549.1 844.9,549.4 845.4,549.7 845.9,549.9 846.4,550.2 846.9,550.5 847.4,550.8 847.9,551.1 848.4,551.4 848.9,551.7 849.4,552.1 849.9,552.4 850.4,552.7 850.9,553.0 851.4,553.3 851.9,553.6 852.4,553.9 852.9,554.2 853.4,554.4 853.9,554.7 854.4,554.9 854.9,555.1 855.4,555.3 855.9,555.5 856.4,555.6 856.9,555.8 857.4,555.9 857.9,556.1 858.4,556.2 858.9,556.3 859.4,556.5 859.9,556.6 860.4,556.7 860.9,556.8 861.4,557.0 861.9,557.1 862.4,557.2 862.9,557.2 863.4,557.3 863.9,557.4 864.4,557.4 864.9,557.5 865.4,557.5 865.9,557.5 866.4,557.5 866.9,557.5 867.4,557.5 867.9,557.5 868.4,557.5 868.9,557.5 869.4,557.5 869.9,557.5 870.4,557.5 870.9,557.5 871.4,557.5 871.9,557.5 872.4,557.5 872.9,557.5 873.4,557.5 873.9,557.5 874.4,557.5 874.9,557.4 875.4,557.4 875.9,557.4 876.4,557.4 876.9,557.4 877.4,557.4 877.9,557.4 878.4,557.4 878.9,557.4 879.4,557.4 879.9,557.4 880.4,557.4 880.9,557.4 881.4,557.4 881.9,557.3 882.4,557.3 882.9,557.3 883.4,557.3 883.9,557.3 884.4,557.3 884.9,557.3 885.4,557.3 885.9,557.3 886.4,557.3 886.9,557.3 887.4,557.2 887.9,557.2 888.4,557.2 888.9,557.2 889.4,557.2 889.9,557.2 890.4,557.2 890.9,557.2 891.4,557.2 891.9,557.2 892.4,557.2 892.9,557.1 893.4,557.1 893.9,557.1 894.4,557.1 894.9,557.1 895.4,557.1 895.9,557.1 896.4,557.1 896.9,557.1 897.4,557.1 897.9,557.1 898.4,557.0 898.9,557.0 899.4,557.0 899.9,557.0 900.4,557.0 900.9,557.0 901.4,557.0 901.9,557.0 902.4,557.0 902.9,557.0 903.4,557.0 903.9,557.0 904.4,556.9 904.9,556.9 905.4,556.9 905.9,556.9 906.4,556.9 906.9,556.9 907.4,556.9 907.9,556.9 908.4,556.9 908.9,556.9 909.4,556.9 909.9,556.9 910.4,556.9 910.9,556.8 911.4,556.8 911.9,556.8 912.4,556.8 912.9,556.8 913.4,556.8 913.9,556.8 914.4,556.8 914.9,556.8 915.4,556.8 915.9,556.8 916.4,556.8 916.9,556.7 917.4,556.7 917.9,556.7 918.4,556.7 918.9,556.7 919.4,556.7 919.9,556.7 920.4,556.7 920.9,556.7 921.4,556.7 921.9,556.7 922.4,556.7 922.9,556.6 923.4,556.6 923.9,556.6 924.4,556.6 924.9,556.6 925.4,556.6 925.9,556.6 926.4,556.6 926.9,556.6 927.4,556.6 927.9,556.6 928.4,556.5 928.9,556.5 929.4,556.5 929.9,556.5 930.4,556.5 930.9,556.5"/>
<path stroke="#ff00ff" stroke-width="4.0" d="M151.6,567.5L151.6,271.0L152.6,271.0 153.1,280.4 153.6,289.2 154.1,297.6 154.6,305.3 155.1,312.4 155.6,318.8 156.1,324.8 156.6,330.4 157.1,335.8 157.6,341.0 158.1,346.1 158.6,350.8 159.1,355.4 159.6,359.8 160.1,364.3 160.6,368.7 161.1,373.3 161.6,378.1 162.1,383.2 162.6,388.6 163.1,394.9 163.6,401.6 164.1,408.5 164.6,415.2 165.1,421.1 165.6,426.3 166.1,431.1 166.6,435.8 167.1,440.7 167.6,446.1 168.1,452.2 168.6,458.6 169.1,465.1 169.6,471.2 170.1,478.5 170.6,484.9 171.1,487.0 171.6,486.1 172.1,484.5 172.6,482.6 173.1,480.3 173.6,477.4 174.1,474.4 174.6,471.0 175.1,467.3 175.6,463.3 176.1,459.4 176.6,455.7 177.1,452.3 177.6,449.5 178.1,447.0 178.6,444.7 179.1,442.6 179.6,440.6 180.1,438.7 180.6,436.8 181.1,435.0 181.6,433.2 182.1,431.4 182.6,429.6 183.1,427.8 183.6,425.9 184.1,424.0 184.6,422.0 185.1,420.1 185.6,418.2 186.1,416.4 186.6,414.6 187.1,412.9 187.6,411.2 188.1,409.7 188.6,408.3 189.1,407.0 189.6,405.8 190.1,404.8 190.6,403.9 191.1,403.1 191.6,402.3 192.1,401.5 192.6,400.8 193.1,400.1 193.6,399.5 194.1,398.9 194.6,398.3 195.1,397.7 195.6,397.2 196.1,396.6 196.6,396.0 197.1,395.5 197.6,394.9 198.1,394.3 198.6,393.6 199.1,393.0 199.6,392.4 200.1,391.7 200.6,391.1 201.1,390.4 201.6,389.8 202.1,389.2 202.6,388.7 203.1,388.1 203.6,387.6 204.1,387.2 204.6,386.8 205.1,386.4 205.6,386.2 206.1,386.0 206.6,385.8 207.1,385.6 207.6,385.4 208.1,385.3 208.6,385.1 209.1,385.0 209.6,384.8 210.1,384.7 210.6,384.6 211.1,384.4 211.6,384.3 212.1,384.3 212.6,384.2 213.1,384.1 213.6,384.1 214.1,384.0 214.6,384.0 215.1,384.0 215.6,384.0 216.1,384.1 216.6,384.2 217.1,384.4 217.6,384.6 218.1,384.8 218.6,385.1 219.1,385.4 219.6,385.7 220.1,386.1 220.6,386.6 221.1,387.5 221.6,388.6 222.1,389.9 222.6,391.3 223.1,393.0 223.6,394.7 224.1,396.6 224.6,398.5 225.1,400.4 225.6,402.6 226.1,405.1 226.6,408.0 227.1,411.0 227.6,414.3 228.1,417.6 228.6,421.0 229.1,424.4 229.6,428.1 230.1,432.0 230.6,436.0 231.1,440.2 231.6,444.4 232.1,448.6 232.6,452.9 233.1,458.1 233.6,463.9 234.1,469.2 234.6,472.9 235.1,474.0 235.6,473.7 236.1,473.0 236.6,472.1 237.1,470.9 237.6,469.6 238.1,468.2 238.6,466.9 239.1,465.5 239.6,463.9 240.1,462.0 240.6,460.0 241.1,458.0 241.6,455.9 242.1,453.9 242.6,452.1 243.1,450.5 243.6,449.3 244.1,448.4 244.6,447.4 245.1,446.6 245.6,445.7 246.1,444.9 246.6,444.3 247.1,443.7 247.6,443.2 248.1,442.9 248.6,442.8 249.1,442.8 249.6,442.9 250.1,443.2 250.6,443.5 251.1,443.9 251.6,444.4 252.1,445.0 252.6,445.6 253.1,446.3 253.6,447.0 254.1,447.7 254.6,448.4 255.1,449.1 255.6,450.0 256.1,451.0 256.6,452.2 257.1,453.5 257.6,454.9 258.1,456.3 258.6,457.7 259.1,459.1 259.6,460.5 260.1,461.8 260.6,463.1 261.1,464.5 261.6,465.9 262.1,467.4 262.6,468.8 263.1,470.2 263.6,471.4 264.1,472.5 264.6,473.4 265.1,474.1 265.6,474.7 266.1,475.3 266.6,475.9 267.1,476.4 267.6,476.9 268.1,477.3 268.6,477.5 269.1,477.7 269.6,477.7 270.1,477.6 270.6,477.2 271.1,476.7 271.6,476.0 272.1,475.2 272.6,474.3 273.1,473.2 273.6,472.2 274.1,471.0 274.6,469.9 275.1,468.8 275.6,467.4 276.1,465.6 276.6,463.6 277.1,461.5 277.6,459.2 278.1,456.9 278.6,454.7 279.1,452.6 279.6,450.7 280.1,449.1 280.6,447.8 281.1,446.5 281.6,445.2 282.1,444.1 282.6,443.1 283.1,442.6 283.6,442.4 284.1,442.9 284.6,444.0 285.1,445.4 285.6,447.2 286.1,449.0 286.6,450.9 287.1,452.7 287.6,454.9 288.1,457.3 288.6,459.9 289.1,462.5 289.6,464.9 290.1,467.1 290.6,469.0 291.1,470.6 291.6,472.0 292.1,473.3 292.6,474.6 293.1,475.8 293.6,476.9 294.1,478.0 294.6,479.2 295.1,480.3 295.6,481.6 296.1,482.8 296.6,484.0 297.1,485.1 297.6,486.2 298.1,487.3 298.6,488.5 299.1,489.7 299.6,491.0 300.1,492.4 300.6,493.9 301.1,495.7 301.6,497.9 302.1,500.5 302.6,503.3 303.1,506.0 303.6,508.6 304.1,510.8 304.6,512.5 305.1,513.9 305.6,515.2 306.1,516.5 306.6,517.7 307.1,518.7 307.6,519.4 308.1,519.9 308.6,520.0 309.1,519.8 309.6,519.4 310.1,518.8 310.6,518.1 311.1,517.2 311.6,516.3 312.1,515.3 312.6,514.3 313.1,513.4 313.6,512.5 314.1,511.6 314.6,510.7 315.1,509.8 315.6,508.8 316.1,507.8 316.6,506.8 317.1,505.7 317.6,504.7 318.1,503.6 318.6,502.6 319.1,501.5 319.6,500.5 320.1,499.5 320.6,498.5 321.1,497.4 321.6,496.3 322.1,495.2 322.6,494.1 323.1,492.9 323.6,491.8 324.1,490.7 324.6,489.7 325.1,488.7 325.6,487.7 326.1,486.8 326.6,485.9 327.1,485.2 327.6,484.5 328.1,483.9 328.6,483.3 329.1,482.7 329.6,482.1 330.1,481.5 330.6,481.0 331.1,480.5 331.6,480.1 332.1,479.7 332.6,479.5 333.1,479.3 333.6,479.3 334.1,479.5 334.6,479.8 335.1,480.4 335.6,481.1 336.1,481.9 336.6,482.9 337.1,483.9 337.6,485.0 338.1,486.3 338.6,488.7 339.1,491.8 339.6,494.7 340.1,496.6 340.6,497.0 341.1,496.9 341.6,496.7 342.1,496.4 342.6,496.1 343.1,495.8 343.6,495.4 344.1,495.1 344.6,494.8 345.1,494.6 345.6,494.3 346.1,494.0 346.6,493.7 347.1,493.5 347.6,493.2 348.1,492.8 348.6,492.5 349.1,492.2 349.6,491.8 350.1,491.4 350.6,491.0 351.1,490.5 351.6,490.0 352.1,489.4 352.6,488.8 353.1,488.2 353.6,487.6 354.1,486.9 354.6,486.3 355.1,485.6 355.6,484.9 356.1,484.3 356.6,483.6 357.1,483.0 357.6,482.4 358.1,481.7 358.6,481.1 359.1,480.4 359.6,479.8 360.1,479.1 360.6,478.4 361.1,477.7 361.6,477.0 362.1,476.3 362.6,475.6 363.1,474.9 363.6,474.3 364.1,473.6 364.6,473.0 365.1,472.4 365.6,471.9 366.1,471.3 366.6,470.8 367.1,470.3 367.6,469.9 368.1,469.5 368.6,469.1 369.1,468.6 369.6,468.2 370.1,467.8 370.6,467.4 371.1,467.0 371.6,466.7 372.1,466.4 372.6,466.2 373.1,466.1 373.6,466.0 374.1,466.1 374.6,466.4 375.1,466.9 375.6,467.7 376.1,468.6 376.6,469.6 377.1,470.8 377.6,472.0 378.1,473.3 378.6,474.6 379.1,476.0 379.6,477.8 380.1,479.9 380.6,482.2 381.1,484.7 381.6,487.3 382.1,489.9 382.6,492.4 383.1,494.8 383.6,496.9 384.1,498.8 384.6,500.8 385.1,502.8 385.6,504.7 386.1,506.6 386.6,508.4 387.1,510.0 387.6,511.4 388.1,512.6 388.6,513.5 389.1,514.2 389.6,514.9 390.1,515.4 390.6,516.0 391.1,516.4 391.6,516.7 392.1,516.9 392.6,517.0 393.1,516.8 393.6,516.3 394.1,515.6 394.6,514.7 395.1,513.7 395.6,512.5 396.1,511.3 396.6,509.9 397.1,508.6 397.6,507.2 398.1,505.6 398.6,503.8 399.1,501.6 399.6,499.3 400.1,496.8 400.6,494.3 401.1,491.7 401.6,489.2 402.1,486.8 402.6,484.6 403.1,482.1 403.6,479.6 404.1,477.0 404.6,474.5 405.1,472.4 405.6,470.8 406.1,469.9 406.6,469.2 407.1,468.6 407.6,468.0 408.1,467.6 408.6,467.2 409.1,467.1 409.6,467.0 410.1,467.1 410.6,467.3 411.1,467.7 411.6,468.1 412.1,468.6 412.6,469.2 413.1,469.8 413.6,470.5 414.1,471.2 414.6,471.9 415.1,472.6 415.6,473.5 416.1,474.5 416.6,475.7 417.1,476.9 417.6,478.3 418.1,479.7 418.6,481.1 419.1,482.5 419.6,483.9 420.1,485.3 420.6,486.7 421.1,488.2 421.6,489.7 422.1,491.3 422.6,492.9 423.1,494.4 423.6,495.8 424.1,497.0 424.6,498.1 425.1,498.9 425.6,499.6 426.1,500.4 426.6,501.0 427.1,501.7 427.6,502.3 428.1,502.8 428.6,503.2 429.1,503.5 429.6,503.7 430.1,503.7 430.6,503.7 431.1,503.6 431.6,503.4 432.1,503.3 432.6,503.1 433.1,502.9 433.6,502.7 434.1,502.6 434.6,502.5 435.1,502.5 435.6,502.7 436.1,503.1 436.6,503.7 437.1,504.5 437.6,505.3 438.1,506.3 438.6,507.2 439.1,508.3 439.6,509.6 440.1,511.3 440.6,513.1 441.1,515.1 441.6,517.2 442.1,519.2 442.6,521.2 443.1,523.0 443.6,524.6 444.1,525.9 444.6,527.3 445.1,528.6 445.6,529.9 446.1,531.1 446.6,532.3 447.1,533.4 447.6,534.3 448.1,535.1 448.6,535.8 449.1,536.4 449.6,536.9 450.1,537.4 450.6,537.8 451.1,538.3 451.6,538.7 452.1,539.0 452.6,539.3 453.1,539.6 453.6,539.9 454.1,540.2 454.6,540.4 455.1,540.5 455.6,540.7 456.1,540.9 456.6,541.0 457.1,541.2 457.6,541.3 458.1,541.4 458.6,541.6 459.1,541.7 459.6,541.8 460.1,541.9 460.6,542.0 461.1,542.1 461.6,542.2 462.1,542.3 462.6,542.4 463.1,542.4 463.6,542.4 464.1,542.5 464.6,542.5 465.1,542.5 465.6,542.5 466.1,542.5 466.6,542.5 467.1,542.5 467.6,542.5 468.1,542.5 468.6,542.5 469.1,542.2 469.6,542.3 470.1,542.1 470.6,542.4 471.1,543.2 471.6,541.3 472.1,541.0 472.6,542.7 473.1,542.3 473.6,542.6 474.1,542.8 474.6,542.3 475.1,543.0 475.6,541.7 476.1,542.4 476.6,541.7 477.1,541.5 477.6,542.8 478.1,542.8 478.6,540.8 479.1,541.4 479.6,542.5 480.1,543.2 480.6,541.8 481.1,542.1 481.6,541.1 482.1,544.2 482.6,542.6 483.1,542.9 483.6,542.6 484.1,542.8 484.6,542.5 485.1,541.7 485.6,542.5 486.1,542.0 486.6,543.0 487.1,541.8 487.6,543.1 488.1,545.6 488.6,546.6 489.1,544.4 489.6,542.0 490.1,541.3 490.6,540.2 491.1,541.5 491.6,540.2 492.1,540.3 492.6,539.7 493.1,539.5 493.6,541.4 494.1,542.1 494.6,541.3 495.1,540.9 495.6,541.7 496.1,540.5 496.6,541.4 497.1,540.2 497.6,539.9 498.1,541.1 498.6,540.9 499.1,542.1 499.6,540.4 500.1,540.6 500.6,539.6 501.1,539.0 501.6,538.7 502.1,539.4 502.6,536.1 503.1,536.5 503.6,538.0 504.1,540.3 504.6,545.6 505.1,545.3 505.6,544.1 506.1,541.2 506.6,541.4 507.1,539.8 507.6,541.0 508.1,540.1 508.6,540.4 509.1,541.0 509.6,540.6 510.1,540.4 510.6,541.1 511.1,541.1 511.6,539.4 512.1,540.9 512.6,541.0 513.1,539.9 513.6,540.8 514.1,539.4 514.6,541.7 515.1,540.3 515.6,540.4 516.1,541.5 516.6,540.4 517.1,541.0 517.6,539.7 518.1,540.0 518.6,539.4 519.1,540.3 519.6,541.3 520.1,540.7 520.6,541.2 521.1,539.7 521.6,539.8 522.1,540.1 522.6,541.0 523.1,540.8 523.6,540.5 524.1,541.0 524.6,540.4 525.1,540.5 525.6,541.5 526.1,540.0 526.6,540.6 527.1,541.8 527.6,540.7 528.1,541.6 528.6,541.8 529.1,545.5 529.6,542.7 530.1,542.4 530.6,540.8 531.1,542.1 531.6,540.8 532.1,540.3 532.6,539.4 533.1,540.7 533.6,540.5 534.1,539.8 534.6,539.1 535.1,539.4 535.6,540.4 536.1,540.5 536.6,540.2 537.1,540.0 537.6,538.9 538.1,540.0 538.6,539.6 539.1,539.9 539.6,539.8 540.1,539.7 540.6,539.6 541.1,539.7 541.6,539.6 542.1,539.3 542.6,538.3 543.1,539.3 543.6,539.4 544.1,539.5 544.6,538.8 545.1,538.7 545.6,538.7 546.1,539.1 546.6,538.3 547.1,538.5 547.6,538.2 548.1,538.5 548.6,537.7 549.1,538.3 549.6,537.9 550.1,537.9 550.6,538.1 551.1,538.2 551.6,537.1 552.1,537.9 552.6,537.7 553.1,537.3 553.6,537.7 554.1,537.1 554.6,537.4 555.1,536.5 555.6,536.2 556.1,536.8 556.6,536.9 557.1,536.2 557.6,536.1 558.1,535.4 558.6,535.0 559.1,535.2 559.6,535.6 560.1,534.3 560.6,534.7 561.1,534.0 561.6,534.6 562.1,534.8 562.6,533.9 563.1,534.1 563.6,534.6 564.1,534.0 564.6,533.5 565.1,533.3 565.6,533.0 566.1,533.8 566.6,533.2 567.1,533.7 567.6,533.6 568.1,532.9 568.6,532.9 569.1,533.2 569.6,532.9 570.1,532.9 570.6,532.1 571.1,532.9 571.6,532.2 572.1,531.6 572.6,532.1 573.1,532.3 573.6,532.8 574.1,531.9 574.6,531.5 575.1,532.6 575.6,531.8 576.1,531.6 576.6,531.2 577.1,531.1 577.6,531.9 578.1,531.2 578.6,531.0 579.1,530.9 579.6,531.6 580.1,530.7 580.6,531.1 581.1,530.8 581.6,530.7 582.1,530.3 582.6,530.7 583.1,530.9 583.6,530.3 584.1,529.9 584.6,529.6 585.1,530.0 585.6,529.8 586.1,529.7 586.6,529.7 587.1,529.1 587.6,529.8 588.1,529.5 588.6,529.3 589.1,529.3 589.6,529.4 590.1,529.0 590.6,528.6 591.1,529.2 591.6,528.6 592.1,528.4 592.6,528.0 593.1,528.4 593.6,528.0 594.1,528.0 594.6,528.3 595.1,528.0 595.6,528.3 596.1,528.0 596.6,527.6 597.1,527.5 597.6,527.4 598.1,527.7 598.6,527.4 599.1,527.1 599.6,527.5 600.1,527.1 600.6,526.8 601.1,526.3 601.6,526.9 602.1,526.7 602.6,526.6 603.1,526.3 603.6,526.1 604.1,526.2 604.6,526.2 605.1,526.0 605.6,525.9 606.1,525.7 606.6,525.9 607.1,525.7 607.6,525.3 608.1,525.7 608.6,525.6 609.1,525.5 609.6,525.0 610.1,524.9 610.6,524.5 611.1,525.0 611.6,523.9 612.1,524.4 612.6,524.3 613.1,524.6 613.6,524.2 614.1,523.8 614.6,523.5 615.1,523.6 615.6,523.8 616.1,523.7 616.6,523.5 617.1,523.2 617.6,523.2 618.1,523.5 618.6,522.7 619.1,523.0 619.6,523.4 620.1,522.9 620.6,522.4 621.1,522.7 621.6,522.1 622.1,522.2 622.6,522.6 623.1,522.6 623.6,521.2 624.1,522.0 624.6,522.3 625.1,521.2 625.6,521.4 626.1,521.7 626.6,520.8 627.1,521.0 627.6,520.7 628.1,519.9 628.6,520.6 629.1,520.2 629.6,520.5 630.1,520.7 630.6,520.0 631.1,519.5 631.6,519.6 632.1,519.4 632.6,519.5 633.1,518.4 633.6,518.3 634.1,517.8 634.6,518.5 635.1,518.1 635.6,517.7 636.1,517.5 636.6,517.3 637.1,517.0 637.6,517.0 638.1,516.8 638.6,516.8 639.1,516.4 639.6,516.2 640.1,516.0 640.6,515.7 641.1,515.5 641.6,515.3 642.1,515.0 642.6,514.8 643.1,514.6 643.6,514.3 644.1,514.1 644.6,513.9 645.1,513.6 645.6,513.4 646.1,513.2 646.6,512.9 647.1,512.7 647.6,512.5 648.1,512.2 648.6,512.0 649.1,511.7 649.6,511.5 650.1,511.3 650.6,511.0 651.1,510.8 651.6,510.5 652.1,510.3 652.6,510.0 653.1,509.7 653.6,509.5 654.1,509.2 654.6,509.0 655.1,508.7 655.6,508.4 656.1,508.2 656.6,507.9 657.1,507.7 657.6,507.4 658.1,507.1 658.6,506.9 659.1,506.6 659.6,506.4 660.1,506.1 660.6,505.9 661.1,505.6 661.6,505.4 662.1,505.1 662.6,504.9 663.1,504.6 663.6,504.4 664.1,504.2 664.6,503.9 665.1,503.7 665.6,503.5 666.1,503.2 666.6,503.0 667.1,502.8 667.6,502.5 668.1,502.3 668.6,502.1 669.1,501.8 669.6,501.6 670.1,501.3 670.6,501.1 671.1,500.9 671.6,500.6 672.1,500.4 672.6,500.2 673.1,500.0 673.6,499.7 674.1,499.5 674.6,499.3 675.1,499.1 675.6,498.9 676.1,498.7 676.6,498.5 677.1,498.4 677.6,498.2 678.1,498.0 678.6,497.9 679.1,497.7 679.6,497.6 680.1,497.5 680.6,497.4 681.1,497.3 681.6,497.2 682.1,497.1 682.6,497.0 683.1,496.9 683.6,496.8 684.1,496.7 684.6,496.6 685.1,496.6 685.6,496.5 686.1,496.4 686.6,496.4 687.1,496.3 687.6,496.2 688.1,496.2 688.6,496.1 689.1,496.0 689.6,496.0 690.1,495.9 690.6,495.8 691.1,495.7 691.6,495.7 692.1,495.6 692.6,495.5 693.1,495.4 693.6,495.3 694.1,495.2 694.6,495.1 695.1,495.0 695.6,494.9 696.1,494.7 696.6,494.6 697.1,494.4 697.6,494.3 698.1,494.1 698.6,494.0 699.1,493.8 699.6,493.6 700.1,493.5 700.6,493.3 701.1,493.1 701.6,492.9 702.1,492.7 702.6,492.5 703.1,492.2 703.6,492.0 704.1,491.8 704.6,491.5 705.1,491.3 705.6,491.0 706.1,490.8 706.6,490.5 707.1,490.2 707.6,489.9 708.1,489.6 708.6,489.3 709.1,488.9 709.6,488.5 710.1,488.0 710.6,487.6 711.1,487.1 711.6,486.6 712.1,486.0 712.6,485.5 713.1,484.9 713.6,484.4 714.1,483.8 714.6,483.2 715.1,482.6 715.6,482.1 716.1,481.5 716.6,480.9 717.1,480.4 717.6,479.8 718.1,479.3 718.6,478.8 719.1,478.3 719.6,477.9 720.1,477.4 720.6,477.0 721.1,476.6 721.6,476.2 722.1,475.7 722.6,475.3 723.1,474.9 723.6,474.5 724.1,474.1 724.6,473.7 725.1,473.4 725.6,473.0 726.1,472.6 726.6,472.2 727.1,471.9 727.6,471.5 728.1,471.2 728.6,470.9 729.1,470.6 729.6,470.2 730.1,469.9 730.6,469.7 731.1,469.4 731.6,469.1 732.1,468.9 732.6,468.6 733.1,468.4 733.6,468.1 734.1,467.9 734.6,467.7 735.1,467.5 735.6,467.2 736.1,467.0 736.6,466.8 737.1,466.6 737.6,466.3 738.1,466.1 738.6,465.8 739.1,465.5 739.6,465.2 740.1,464.9 740.6,464.6 741.1,464.3 741.6,463.9 742.1,463.5 742.6,463.1 743.1,462.7 743.6,462.3 744.1,461.8 744.6,461.4 745.1,460.9 745.6,460.5 746.1,460.0 746.6,459.5 747.1,459.1 747.6,458.6 748.1,458.2 748.6,457.8 749.1,457.3 749.6,456.9 750.1,456.6 750.6,456.2 751.1,455.8 751.6,455.5 752.1,455.2 752.6,454.9 753.1,454.7 753.6,454.4 754.1,454.2 754.6,453.9 755.1,453.7 755.6,453.5 756.1,453.2 756.6,453.0 757.1,452.8 757.6,452.7 758.1,452.5 758.6,452.3 759.1,452.2 759.6,452.1 760.1,452.0 760.6,451.9 761.1,451.8 761.6,451.7 762.1,451.6 762.6,451.6 763.1,451.5 763.6,451.4 764.1,451.4 764.6,451.4 765.1,451.3 765.6,451.3 766.1,451.3 766.6,451.3 767.1,451.4 767.6,451.5 768.1,451.6 768.6,451.8 769.1,451.9 769.6,452.1 770.1,452.4 770.6,452.6 771.1,452.8 771.6,453.1 772.1,453.3 772.6,453.6 773.1,453.8 773.6,454.0 774.1,454.3 774.6,454.5 775.1,454.7 775.6,454.9 776.1,455.0 776.6,455.2 777.1,455.3 777.6,455.5 778.1,455.6 778.6,455.8 779.1,455.9 779.6,456.1 780.1,456.2 780.6,456.3 781.1,456.5 781.6,456.6 782.1,456.7 782.6,456.8 783.1,457.0 783.6,457.1 784.1,457.2 784.6,457.3 785.1,457.4 785.6,457.4 786.1,457.5 786.6,457.6 787.1,457.6 787.6,457.7 788.1,457.8 788.6,457.8 789.1,457.8 789.6,457.9 790.1,457.9 790.6,458.0 791.1,458.0 791.6,458.0 792.1,458.1 792.6,458.1 793.1,458.1 793.6,458.2 794.1,458.2 794.6,458.3 795.1,458.3 795.6,458.4 796.1,458.4 796.6,458.5 797.1,458.5 797.6,458.6 798.1,458.7 798.6,458.8 799.1,458.9 799.6,459.0 800.1,459.2 800.6,459.4 801.1,459.7 801.6,460.0 802.1,460.3 802.6,460.6 803.1,460.9 803.6,461.3 804.1,461.6 804.6,462.0 805.1,462.4 805.6,462.8 806.1,463.2 806.6,463.5 807.1,463.9 807.6,464.3 808.1,464.7 808.6,465.1 809.1,465.5 809.6,465.9 810.1,466.3 810.6,466.7 811.1,467.1 811.6,467.6 812.1,468.1 812.6,468.5 813.1,469.0 813.6,469.5 814.1,470.0 814.6,470.5 815.1,471.0 815.6,471.5 816.1,471.9 816.6,472.4 817.1,472.9 817.6,473.4 818.1,473.8 818.6,474.3 819.1,474.7 819.6,475.2 820.1,475.6 820.6,476.0 821.1,476.3 821.6,476.7 822.1,477.0 822.6,477.4 823.1,477.7 823.6,478.0 824.1,478.3 824.6,478.6 825.1,478.9 825.6,479.2 826.1,479.4 826.6,479.7 827.1,480.0 827.6,480.3 828.1,480.6 828.6,480.9 829.1,481.2 829.6,481.5 830.1,481.9 830.6,482.2 831.1,482.6 831.6,482.9 832.1,483.3 832.6,483.7 833.1,484.0 833.6,484.4 834.1,484.8 834.6,485.2 835.1,485.6 835.6,486.0 836.1,486.4 836.6,486.9 837.1,487.3 837.6,487.8 838.1,488.3 838.6,488.9 839.1,489.4 839.6,490.0 840.1,490.6 840.6,491.3 841.1,491.9 841.6,492.6 842.1,493.4 842.6,494.1 843.1,494.9 843.6,495.7 844.1,496.6 844.6,497.4 845.1,498.3 845.6,499.2 846.1,500.2 846.6,501.3 847.1,502.4 847.6,503.7 848.1,505.1 848.6,506.4 849.1,507.8 849.6,509.2 850.1,510.4 850.6,511.6 851.1,512.7 851.6,513.8 852.1,514.8 852.6,515.9 853.1,516.9 853.6,517.9 854.1,518.8 854.6,519.6 855.1,520.3 855.6,520.9 856.1,521.3 856.6,521.7 857.1,522.1 857.6,522.4 858.1,522.8 858.6,523.1 859.1,523.3 859.6,523.6 860.1,523.8 860.6,524.0 861.1,524.1 861.6,524.2 862.1,524.2 862.6,524.2 863.1,524.2 863.6,524.2 864.1,524.2 864.6,524.2 865.1,524.2 865.6,524.2 866.1,524.2 866.6,524.2 867.1,524.2 867.6,524.1 868.1,524.1 868.6,524.1 869.1,524.1 869.6,524.1 870.1,524.0 870.6,524.0 871.1,524.0 871.6,524.0 872.1,524.0 872.6,523.9 873.1,523.9 873.6,523.9 874.1,523.9 874.6,523.8 875.1,523.8 875.6,523.8 876.1,523.7 876.6,523.7 877.1,523.7 877.6,523.6 878.1,523.6 878.6,523.6 879.1,523.5 879.6,523.5 880.1,523.4 880.6,523.4 881.1,523.3 881.6,523.3 882.1,523.2 882.6,523.2 883.1,523.1 883.6,523.0 884.1,523.0 884.6,522.9 885.1,522.9 885.6,522.8 886.1,522.7 886.6,522.6 887.1,522.6 887.6,522.5 888.1,522.4 888.6,522.4 889.1,522.3 889.6,522.2 890.1,522.2 890.6,522.1 891.1,522.0 891.6,521.9 892.1,521.9 892.6,521.8 893.1,521.7 893.6,521.7 894.1,521.6 894.6,521.5 895.1,521.4 895.6,521.4 896.1,521.3 896.6,521.2 897.1,521.2 897.6,521.1 898.1,521.1 898.6,521.0 899.1,520.9 899.6,520.9 900.1,520.8 900.6,520.8 901.1,520.7 901.6,520.7 902.1,520.6 902.6,520.6 903.1,520.6 903.6,520.5 904.1,520.5 904.6,520.4 905.1,520.4 905.6,520.3 906.1,520.3 906.6,520.2 907.1,520.2 907.6,520.1 908.1,520.1 908.6,520.0 909.1,520.0 909.6,520.0 910.1,519.9 910.6,519.9 911.1,519.8 911.6,519.8 912.1,519.7 912.6,519.7 913.1,519.7 913.6,519.6 914.1,519.6 914.6,519.5 915.1,519.5 915.6,519.5 916.1,519.4 916.6,519.4 917.1,519.3 917.6,519.3 918.1,519.3 918.6,519.2 919.1,519.2 919.6,519.1 920.1,519.1 920.6,519.1 921.1,519.0 921.6,519.0 922.1,519.0 922.6,518.9 923.1,518.9 923.6,518.9 924.1,518.8 924.6,518.8 925.1,518.8 925.6,518.7 926.1,518.7 926.6,518.7 927.1,518.6 927.6,518.6 928.1,518.6 928.6,518.5 929.1,518.5 929.6,518.5 930.1,518.5 930.6,518.4"/>
<path stroke="#008000" stroke-width="4.0" d="M151.6,567.5L151.6,362.0L152.2,362.0 152.6,373.0 153.0,383.3 153.4,392.7 153.8,401.0 154.2,408.3 154.6,415.0 155.0,421.2 155.4,427.0 155.8,432.4 156.2,437.7 156.6,443.6 157.0,449.2 157.4,451.8 157.8,451.5 158.2,451.2 158.6,452.1 159.0,445.3 159.4,446.7 159.8,445.6 160.2,451.9 160.6,451.6 161.0,452.5 161.4,454.5 161.8,460.3 162.2,460.6 162.6,460.3 163.0,463.7 163.4,457.7 163.8,456.1 164.2,463.4 164.6,456.0 165.0,455.3 165.4,455.2 165.8,457.2 166.2,460.2 166.6,461.2 167.0,461.8 167.4,460.7 167.8,458.6 168.2,463.1 168.6,466.3 169.0,465.3 169.4,463.6 169.8,464.7 170.2,463.7 170.6,463.1 171.0,461.7 171.4,459.9 171.8,457.8 172.2,455.6 172.6,453.5 173.0,450.9 173.4,447.8 173.8,444.5 174.2,441.2 174.6,437.9 175.0,435.0 175.4,432.4 175.8,429.8 176.2,427.3 176.6,424.9 177.0,422.7 177.4,420.5 177.8,418.5 178.2,416.5 178.6,414.5 179.0,412.7 179.4,410.8 179.8,409.0 180.2,407.3 180.6,405.5 181.0,403.8 181.4,402.2 181.8,400.5 182.2,398.9 182.6,397.3 183.0,395.7 183.4,394.0 183.8,392.4 184.2,390.8 184.6,389.2 185.0,387.5 185.4,385.8 185.8,384.1 186.2,382.4 186.6,380.6 187.0,378.9 187.4,377.1 187.8,375.3 188.2,373.6 188.6,371.9 189.0,370.2 189.4,368.5 189.8,366.9 190.2,365.3 190.6,363.8 191.0,362.3 191.4,360.9 191.8,359.6 192.2,358.4 192.6,357.2 193.0,356.1 193.4,354.9 193.8,353.6 194.2,352.5 194.6,351.3 195.0,350.3 195.4,349.4 195.8,348.6 196.2,348.0 196.6,347.6 197.0,347.5 197.4,347.6 197.8,347.8 198.2,348.1 198.6,348.5 199.0,349.0 199.4,349.6 199.8,350.2 200.2,350.8 200.6,351.4 201.0,352.0 201.4,352.6 201.8,353.2 202.2,353.7 202.6,354.1 203.0,354.5 203.4,354.9 203.8,355.2 204.2,355.6 204.6,356.0 205.0,356.3 205.4,356.7 205.8,357.0 206.2,357.4 206.6,357.7 207.0,358.0 207.4,358.3 207.8,358.6 208.2,358.9 208.6,359.2 209.0,359.4 209.4,359.7 209.8,359.9 210.2,360.1 210.6,360.3 211.0,360.5 211.4,360.6 211.8,360.7 212.2,360.9 212.6,361.0 213.0,361.1 213.4,361.2 213.8,361.4 214.2,361.5 214.6,361.7 215.0,361.9 215.4,362.1 215.8,362.4 216.2,362.7 216.6,363.0 217.0,363.4 217.4,363.9 217.8,364.5 218.2,365.3 218.6,366.1 219.0,367.0 219.4,368.1 219.8,369.3 220.2,370.9 220.6,373.8 221.0,377.9 221.4,383.0 221.8,388.8 222.2,395.1 222.6,401.7 223.0,410.4 223.4,420.5 223.8,430.1 224.2,439.6 224.6,449.2 225.0,458.7 225.4,467.6 225.8,475.5 226.2,482.3 226.6,488.6 227.0,494.7 227.4,500.4 227.8,505.9 228.2,511.0 228.6,515.7 229.0,520.1 229.4,524.0 229.8,527.4 230.2,530.5 230.6,533.5 231.0,536.5 231.4,539.4 231.8,542.0 232.2,544.4 232.6,546.3 233.0,547.8 233.4,548.7 233.8,549.0 234.2,547.6 234.6,544.4 235.0,540.1 235.4,535.4 235.8,531.0 236.2,527.2 236.6,523.5 237.0,519.8 237.4,516.1 237.8,512.4 238.2,508.7 238.6,504.9 239.0,501.1 239.4,497.3 239.8,493.4 240.2,489.5 240.6,485.4 241.0,481.2 241.4,476.9 241.8,472.6 242.2,468.4 242.6,464.3 243.0,460.4 243.4,456.8 243.8,453.6 244.2,450.4 244.6,447.0 245.0,443.6 245.4,440.4 245.8,437.7 246.2,435.5 246.6,434.0 247.0,433.5 247.4,434.1 247.8,435.8 248.2,438.4 248.6,441.6 249.0,445.1 249.4,448.8 249.8,452.3 250.2,455.7 250.6,459.2 251.0,463.0 251.4,466.9 251.8,471.1 252.2,475.3 252.6,479.5 253.0,483.8 253.4,487.9 253.8,492.0 254.2,496.4 254.6,501.2 255.0,505.9 255.4,510.0 255.8,513.0 256.2,514.8 256.6,516.2 257.0,517.5 257.4,518.7 257.8,519.8 258.2,520.7 258.6,521.5 259.0,522.1 259.4,522.5 259.8,522.7 260.2,522.7 260.6,522.7 261.0,522.5 261.4,522.4 261.8,522.1 262.2,521.8 262.6,521.5 263.0,521.1 263.4,520.7 263.8,520.3 264.2,519.9 264.6,519.4 265.0,519.0 265.4,518.5 265.8,517.8 266.2,517.0 266.6,516.0 267.0,515.0 267.4,514.0 267.8,512.9 268.2,511.8 268.6,510.7 269.0,509.7 269.4,508.8 269.8,508.0 270.2,507.2 270.6,506.5 271.0,505.8 271.4,505.0 271.8,504.3 272.2,503.6 272.6,502.9 273.0,502.4 273.4,501.9 273.8,501.5 274.2,501.3 274.6,501.2 275.0,501.3 275.4,501.8 275.8,502.4 276.2,503.2 276.6,504.2 277.0,505.2 277.4,506.3 277.8,507.4 278.2,508.7 278.6,510.5 279.0,512.5 279.4,514.8 279.8,517.1 280.2,519.3 280.6,521.4 281.0,523.3 281.4,524.7 281.8,525.8 282.2,526.6 282.6,527.3 283.0,528.0 283.4,528.5 283.8,529.1 284.2,529.6 284.6,530.2 285.0,530.8 285.4,531.5 285.8,532.4 286.2,533.4 286.6,534.6 287.0,535.9 287.4,537.1 287.8,538.3 288.2,539.3 288.6,540.1 289.0,540.6 289.4,540.7 289.8,540.6 290.2,540.3 290.6,540.0 291.0,539.8 291.4,539.5 291.8,539.4 292.2,539.5 292.6,539.7 293.0,540.1 293.4,540.6 293.8,541.1 294.2,541.7 294.6,542.1 295.0,542.7 295.4,543.4 295.8,544.1 296.2,544.9 296.6,545.6 297.0,546.2 297.4,546.7 297.8,547.0 298.2,547.1 298.6,546.9 299.0,546.4 299.4,545.7 299.8,544.8 300.2,543.9 300.6,542.9 301.0,542.1 301.4,541.4 301.8,540.9 302.2,540.7 302.6,540.6 303.0,540.5 303.4,540.5 303.8,540.5 304.2,540.4 304.6,540.4 305.0,540.4 305.4,540.3 305.8,540.2 306.2,540.1 306.6,539.8 307.0,539.3 307.4,538.8 307.8,538.1 308.2,537.3 308.6,536.3 309.0,535.3 309.4,534.2 309.8,533.0 310.2,531.4 310.6,529.0 311.0,526.1 311.4,522.8 311.8,519.4 312.2,515.9 312.6,512.5 313.0,508.8 313.4,504.9 313.8,500.8 314.2,496.6 314.6,492.5 315.0,488.5 315.4,484.4 315.8,480.1 316.2,475.8 316.6,471.4 317.0,467.1 317.4,463.0 317.8,459.0 318.2,455.3 318.6,452.0 319.0,449.0 319.4,446.3 319.8,443.8 320.2,441.4 320.6,439.2 321.0,437.1 321.4,435.0 321.8,432.9 322.2,430.7 322.6,428.4 323.0,426.0 323.4,423.4 323.8,420.5 324.2,417.1 324.6,413.2 325.0,409.1 325.4,405.1 325.8,401.5 326.2,398.6 326.6,395.7 327.0,393.0 327.4,390.2 327.8,387.6 328.2,385.1 328.6,382.7 329.0,380.5 329.4,378.5 329.8,376.6 330.2,375.0 330.6,373.6 331.0,372.5 331.4,371.5 331.8,370.6 332.2,369.6 332.6,368.8 333.0,368.0 333.4,367.3 333.8,366.8 334.2,366.4 334.6,366.1 335.0,366.0 335.4,366.3 335.8,367.1 336.2,368.4 336.6,370.1 337.0,372.2 337.4,374.4 337.8,377.3 338.2,381.9 338.6,387.9 339.0,395.0 339.4,407.9 339.8,419.8 340.2,417.6 340.6,408.5 341.0,400.0 341.4,394.2 341.8,388.5 342.2,383.5 342.6,379.7 343.0,377.5 343.4,376.4 343.8,375.4 344.2,374.6 344.6,373.9 345.0,373.3 345.4,372.8 345.8,372.4 346.2,372.0 346.6,371.6 347.0,371.3 347.4,370.9 347.8,370.6 348.2,370.2 348.6,369.7 349.0,369.2 349.4,368.6 349.8,367.9 350.2,367.1 350.6,366.1 351.0,365.0 351.4,363.7 351.8,362.3 352.2,360.8 352.6,359.3 353.0,357.7 353.4,356.0 353.8,354.3 354.2,352.6 354.6,350.9 355.0,349.2 355.4,347.5 355.8,345.9 356.2,344.3 356.6,342.9 357.0,341.5 357.4,340.3 357.8,339.2 358.2,338.1 358.6,337.0 359.0,336.0 359.4,335.0 359.8,334.1 360.2,333.1 360.6,332.2 361.0,331.3 361.4,330.5 361.8,329.6 362.2,328.7 362.6,327.9 363.0,327.0 363.4,326.1 363.8,325.2 364.2,324.3 364.6,323.4 365.0,322.5 365.4,321.5 365.8,320.4 366.2,319.3 366.6,318.1 367.0,316.8 367.4,315.5 367.8,314.3 368.2,313.0 368.6,311.7 369.0,310.5 369.4,309.4 369.8,308.3 370.2,307.3 370.6,306.4 371.0,305.6 371.4,305.0 371.8,304.5 372.2,304.2 372.6,304.0 373.0,304.1 373.4,304.5 373.8,305.1 374.2,306.0 374.6,307.1 375.0,308.4 375.4,309.8 375.8,311.2 376.2,312.9 376.6,315.2 377.0,318.2 377.4,321.7 377.8,325.7 378.2,330.1 378.6,334.6 379.0,339.1 379.4,343.6 379.8,347.9 380.2,352.0 380.6,356.2 381.0,360.5 381.4,364.9 381.8,369.4 382.2,373.8 382.6,378.2 383.0,382.4 383.4,386.5 383.8,390.5 384.2,394.4 384.6,398.3 385.0,402.0 385.4,405.5 385.8,408.6 386.2,411.3 386.6,413.9 387.0,416.4 387.4,418.8 387.8,421.0 388.2,423.1 388.6,425.0 389.0,426.8 389.4,428.2 389.8,429.5 390.2,430.5 390.6,431.4 391.0,432.3 391.4,432.8 391.8,433.0 392.2,432.8 392.6,432.2 393.0,431.4 393.4,430.4 393.8,429.2 394.2,427.8 394.6,426.4 395.0,425.0 395.4,423.4 395.8,421.5 396.2,419.2 396.6,416.7 397.0,414.0 397.4,411.0 397.8,407.9 398.2,404.6 398.6,401.3 399.0,397.7 399.4,393.6 399.8,389.0 400.2,384.1 400.6,378.9 401.0,373.6 401.4,368.4 401.8,363.3 402.2,358.4 402.6,353.9 403.0,349.3 403.4,344.6 403.8,339.8 404.2,335.1 404.6,330.8 405.0,326.9 405.4,323.5 405.8,321.0 406.2,319.2 406.6,317.5 407.0,316.0 407.4,314.7 407.8,313.7 408.2,312.9 408.6,312.5 409.0,312.7 409.4,313.5 409.8,314.9 410.2,316.6 410.6,318.4 411.0,320.0 411.4,321.5 411.8,323.1 412.2,324.8 412.6,326.5 413.0,328.2 413.4,330.0 413.8,331.8 414.2,333.7 414.6,335.6 415.0,337.5 415.4,339.4 415.8,341.3 416.2,343.1 416.6,345.1 417.0,347.0 417.4,349.1 417.8,351.4 418.2,353.8 418.6,356.4 419.0,359.4 419.4,362.9 419.8,366.7 420.2,371.0 420.6,375.4 421.0,380.0 421.4,385.4 421.8,391.6 422.2,397.1 422.6,400.7 423.0,403.3 423.4,405.7 423.8,407.9 424.2,409.8 424.6,411.5 425.0,412.9 425.4,414.0 425.8,414.7 426.2,415.2 426.6,415.6 427.0,416.0 427.4,416.4 427.8,416.7 428.2,416.9 428.6,417.1 429.0,417.3 429.4,417.4 429.8,417.5 430.2,417.5 430.6,417.3 431.0,417.0 431.4,416.5 431.8,416.0 432.2,415.4 432.6,414.9 433.0,414.3 433.4,413.7 433.8,413.2 434.2,412.8 434.6,412.6 435.0,412.5 435.4,412.6 435.8,413.0 436.2,413.5 436.6,414.3 437.0,415.1 437.4,416.1 437.8,417.2 438.2,418.4 438.6,419.6 439.0,420.8 439.4,422.5 439.8,424.6 440.2,426.9 440.6,429.4 441.0,432.1 441.4,434.9 441.8,437.7 442.2,440.5 442.6,443.2 443.0,445.9 443.4,448.9 443.8,452.0 444.2,455.1 444.6,458.1 445.0,461.1 445.4,463.9 445.8,466.4 446.2,468.6 446.6,470.7 447.0,472.8 447.4,474.8 447.8,476.7 448.2,478.5 448.6,480.2 449.0,481.7 449.4,483.1 449.8,484.4 450.2,485.5 450.6,486.6 451.0,487.6 451.4,488.6 451.8,489.4 452.2,490.3 452.6,491.1 453.0,491.8 453.4,492.6 453.8,493.2 454.2,493.9 454.6,494.4 455.0,495.0 455.4,495.5 455.8,496.1 456.2,496.6 456.6,497.1 457.0,497.6 457.4,498.1 457.8,498.5 458.2,498.9 458.6,499.3 459.0,499.7 459.4,500.0 459.8,500.3 460.2,500.6 460.6,500.8 461.0,501.0 461.4,501.1 461.8,501.3 462.2,501.4 462.6,501.6 463.0,501.7 463.4,501.8 463.8,501.9 464.2,502.0 464.6,502.1 465.0,502.2 465.4,502.3 465.8,502.4 466.2,502.4 466.6,502.5 467.0,502.5 467.4,502.5 467.8,502.5 468.2,502.5 468.6,502.4 469.0,502.4 469.4,502.3 469.8,502.3 470.2,502.2 470.6,502.0 471.0,502.0 471.4,501.8 471.8,502.4 472.2,503.5 472.6,502.8 473.0,501.1 473.4,500.5 473.8,500.4 474.2,500.0 474.6,500.9 475.0,501.1 475.4,500.8 475.8,500.6 476.2,500.5 476.6,500.1 477.0,499.4 477.4,501.7 477.8,501.0 478.2,498.9 478.6,498.9 479.0,499.1 479.4,499.6 479.8,500.8 480.2,500.5 480.6,500.4 481.0,500.4 481.4,500.3 481.8,499.9 482.2,499.5 482.6,498.9 483.0,497.2 483.4,498.7 483.8,500.5 484.2,498.0 484.6,497.6 485.0,498.5 485.4,496.5 485.8,495.0 486.2,497.0 486.6,496.8 487.0,497.8 487.4,497.1 487.8,498.4 488.2,498.3 488.6,498.6 489.0,498.9 489.4,498.8 489.8,497.7 490.2,498.1 490.6,496.2 491.0,497.9 491.4,497.8 491.8,496.7 492.2,496.2 492.6,496.8 493.0,495.6 493.4,497.0 493.8,496.9 494.2,495.5 494.6,496.4 495.0,497.3 495.4,497.2 495.8,497.0 496.2,495.8 496.6,495.5 497.0,495.3 497.4,496.2 497.8,497.8 498.2,496.7 498.6,496.8 499.0,496.4 499.4,493.3 499.8,494.6 500.2,494.2 500.6,495.8 501.0,496.2 501.4,494.0 501.8,495.2 502.2,496.4 502.6,495.9 503.0,495.9 503.4,495.3 503.8,495.9 504.2,493.0 504.6,494.2 505.0,492.6 505.4,492.8 505.8,493.2 506.2,490.7 506.6,490.2 507.0,491.1 507.4,489.3 507.8,489.3 508.2,489.6 508.6,489.5 509.0,487.7 509.4,488.3 509.8,488.9 510.2,489.3 510.6,485.7 511.0,488.6 511.4,487.9 511.8,485.6 512.2,485.0 512.6,486.6 513.0,485.5 513.4,485.8 513.8,486.3 514.2,484.9 514.6,485.3 515.0,485.5 515.4,485.8 515.8,486.5 516.2,486.3 516.6,484.8 517.0,484.2 517.4,486.7 517.8,484.8 518.2,484.5 518.6,482.9 519.0,484.7 519.4,483.0 519.8,483.3 520.2,482.3 520.6,483.0 521.0,483.5 521.4,481.9 521.8,482.4 522.2,483.2 522.6,482.4 523.0,482.6 523.4,482.9 523.8,483.0 524.2,482.9 524.6,482.7 525.0,483.0 525.4,483.0 525.8,481.8 526.2,481.6 526.6,480.0 527.0,478.9 527.4,480.0 527.8,481.2 528.2,482.5 528.6,483.0 529.0,481.7 529.4,482.3 529.8,483.5 530.2,486.0 530.6,487.1 531.0,491.0 531.4,488.4 531.8,486.1 532.2,482.8 532.6,481.8 533.0,482.1 533.4,482.2 533.8,480.3 534.2,477.2 534.6,478.5 535.0,478.3 535.4,480.2 535.8,480.9 536.2,480.6 536.6,480.9 537.0,480.9 537.4,481.0 537.8,481.2 538.2,480.8 538.6,479.9 539.0,480.5 539.4,481.0 539.8,480.7 540.2,480.0 540.6,480.1 541.0,480.0 541.4,480.0 541.8,479.9 542.2,478.4 542.6,478.2 543.0,478.9 543.4,478.7 543.8,478.4 544.2,475.8 544.6,476.8 545.0,474.7 545.4,476.8 545.8,476.1 546.2,475.9 546.6,475.5 547.0,476.1 547.4,474.9 547.8,475.4 548.2,474.9 548.6,474.6 549.0,474.4 549.4,473.9 549.8,472.9 550.2,473.8 550.6,473.5 551.0,472.8 551.4,473.0 551.8,472.9 552.2,471.3 552.6,471.7 553.0,471.3 553.4,470.8 553.8,471.2 554.2,470.3 554.6,470.3 555.0,470.4 555.4,470.2 555.8,469.9 556.2,470.8 556.6,468.9 557.0,469.1 557.4,468.0 557.8,468.7 558.2,468.7 558.6,468.3 559.0,467.5 559.4,467.3 559.8,467.1 560.2,466.9 560.6,466.6 561.0,466.3 561.4,466.1 561.8,465.8 562.2,465.5 562.6,465.3 563.0,465.0 563.4,464.8 563.8,464.5 564.2,464.3 564.6,464.0 565.0,463.7 565.4,463.5 565.8,463.2 566.2,463.0 566.6,462.7 567.0,462.5 567.4,462.3 567.8,462.0 568.2,461.8 568.6,461.5 569.0,461.3 569.4,461.0 569.8,460.8 570.2,460.5 570.6,460.3 571.0,460.0 571.4,459.8 571.8,459.6 572.2,459.3 572.6,459.0 573.0,458.8 573.4,458.5 573.8,458.3 574.2,458.0 574.6,457.8 575.0,457.5 575.4,457.2 575.8,457.0 576.2,456.7 576.6,456.4 577.0,456.2 577.4,455.9 577.8,455.6 578.2,455.4 578.6,455.1 579.0,454.8 579.4,454.5 579.8,454.3 580.2,454.0 580.6,453.7 581.0,453.4 581.4,453.2 581.8,452.9 582.2,452.6 582.6,452.3 583.0,452.0 583.4,451.8 583.8,451.5 584.2,451.2 584.6,450.9 585.0,450.6 585.4,450.3 585.8,450.0 586.2,449.7 586.6,449.5 587.0,449.2 587.4,448.9 587.8,448.6 588.2,448.3 588.6,448.0 589.0,447.7 589.4,447.4 589.8,447.1 590.2,446.8 590.6,446.5 591.0,446.2 591.4,445.9 591.8,445.5 592.2,445.2 592.6,444.9 593.0,444.6 593.4,444.3 593.8,444.0 594.2,443.6 594.6,443.3 595.0,443.0 595.4,442.7 595.8,442.3 596.2,442.0 596.6,441.7 597.0,441.3 597.4,441.0 597.8,440.6 598.2,440.3 598.6,440.0 599.0,439.6 599.4,439.3 599.8,438.9 600.2,438.6 600.6,438.2 601.0,437.9 601.4,437.5 601.8,437.2 602.2,436.8 602.6,436.5 603.0,436.1 603.4,435.7 603.8,435.4 604.2,435.0 604.6,434.7 605.0,434.3 605.4,434.0 605.8,433.6 606.2,433.3 606.6,432.9 607.0,432.6 607.4,432.2 607.8,431.9 608.2,431.5 608.6,431.2 609.0,430.9 609.4,430.5 609.8,430.2 610.2,429.8 610.6,429.5 611.0,429.2 611.4,428.8 611.8,428.5 612.2,428.2 612.6,427.9 613.0,427.6 613.4,427.3 613.8,426.9 614.2,426.6 614.6,426.3 615.0,426.0 615.4,425.7 615.8,425.4 616.2,425.1 616.6,424.8 617.0,424.5 617.4,424.1 617.8,423.8 618.2,423.5 618.6,423.2 619.0,422.9 619.4,422.5 619.8,422.2 620.2,421.9 620.6,421.6 621.0,421.2 621.4,420.9 621.8,420.5 622.2,420.2 622.6,419.8 623.0,419.4 623.4,419.1 623.8,418.7 624.2,418.3 624.6,417.9 625.0,417.5 625.4,417.1 625.8,416.7 626.2,416.2 626.6,415.8 627.0,415.3 627.4,414.9 627.8,414.4 628.2,414.0 628.6,413.5 629.0,413.0 629.4,412.5 629.8,412.0 630.2,411.5 630.6,411.0 631.0,410.4 631.4,409.9 631.8,409.4 632.2,408.8 632.6,408.3 633.0,407.8 633.4,407.2 633.8,406.7 634.2,406.1 634.6,405.6 635.0,405.0 635.4,404.4 635.8,403.9 636.2,403.3 636.6,402.7 637.0,402.1 637.4,401.5 637.8,400.9 638.2,400.3 638.6,399.7 639.0,399.1 639.4,398.4 639.8,397.8 640.2,397.2 640.6,396.5 641.0,395.9 641.4,395.2 641.8,394.6 642.2,393.9 642.6,393.2 643.0,392.6 643.4,391.9 643.8,391.2 644.2,390.6 644.6,389.9 645.0,389.2 645.4,388.6 645.8,387.9 646.2,387.2 646.6,386.5 647.0,385.8 647.4,385.2 647.8,384.5 648.2,383.8 648.6,383.1 649.0,382.4 649.4,381.6 649.8,380.9 650.2,380.2 650.6,379.4 651.0,378.7 651.4,377.9 651.8,377.1 652.2,376.4 652.6,375.6 653.0,374.8 653.4,374.1 653.8,373.3 654.2,372.5 654.6,371.8 655.0,371.0 655.4,370.3 655.8,369.5 656.2,368.8 656.6,368.1 657.0,367.4 657.4,366.7 657.8,366.0 658.2,365.3 658.6,364.7 659.0,364.0 659.4,363.4 659.8,362.8 660.2,362.2 660.6,361.6 661.0,361.0 661.4,360.5 661.8,359.9 662.2,359.3 662.6,358.7 663.0,358.1 663.4,357.6 663.8,357.0 664.2,356.5 664.6,355.9 665.0,355.4 665.4,354.9 665.8,354.4 666.2,353.9 666.6,353.4 667.0,352.9 667.4,352.5 667.8,352.1 668.2,351.6 668.6,351.2 669.0,350.9 669.4,350.5 669.8,350.2 670.2,349.8 670.6,349.5 671.0,349.2 671.4,348.9 671.8,348.6 672.2,348.3 672.6,348.1 673.0,347.8 673.4,347.5 673.8,347.3 674.2,347.0 674.6,346.8 675.0,346.6 675.4,346.4 675.8,346.2 676.2,346.0 676.6,345.8 677.0,345.7 677.4,345.5 677.8,345.4 678.2,345.3 678.6,345.2 679.0,345.1 679.4,345.0 679.8,344.9 680.2,344.8 680.6,344.7 681.0,344.7 681.4,344.6 681.8,344.5 682.2,344.4 682.6,344.4 683.0,344.3 683.4,344.2 683.8,344.1 684.2,344.0 684.6,343.9 685.0,343.7 685.4,343.6 685.8,343.5 686.2,343.3 686.6,343.2 687.0,343.0 687.4,342.8 687.8,342.6 688.2,342.5 688.6,342.3 689.0,342.0 689.4,341.8 689.8,341.6 690.2,341.4 690.6,341.1 691.0,340.8 691.4,340.6 691.8,340.3 692.2,340.0 692.6,339.7 693.0,339.3 693.4,339.0 693.8,338.6 694.2,338.3 694.6,337.9 695.0,337.5 695.4,337.0 695.8,336.4 696.2,335.7 696.6,334.9 697.0,334.0 697.4,333.1 697.8,332.1 698.2,331.2 698.6,330.3 699.0,329.4 699.4,328.6 699.8,327.8 700.2,327.2 700.6,326.6 701.0,325.9 701.4,325.3 701.8,324.8 702.2,324.2 702.6,323.7 703.0,323.3 703.4,322.8 703.8,322.5 704.2,322.1 704.6,321.9 705.0,321.6 705.4,321.4 705.8,321.2 706.2,321.0 706.6,320.8 707.0,320.5 707.4,320.1 707.8,319.6 708.2,319.0 708.6,318.1 709.0,317.2 709.4,316.1 709.8,314.9 710.2,313.7 710.6,312.5 711.0,311.2 711.4,310.0 711.8,308.8 712.2,307.7 712.6,306.8 713.0,305.8 713.4,304.8 713.8,303.9 714.2,302.9 714.6,301.9 715.0,300.9 715.4,299.9 715.8,298.9 716.2,298.0 716.6,297.1 717.0,296.2 717.4,295.4 717.8,294.6 718.2,293.8 718.6,293.1 719.0,292.5 719.4,291.9 719.8,291.5 720.2,291.1 720.6,290.7 721.0,290.3 721.4,290.0 721.8,289.7 722.2,289.4 722.6,289.1 723.0,288.8 723.4,288.6 723.8,288.3 724.2,288.1 724.6,287.9 725.0,287.7 725.4,287.4 725.8,287.2 726.2,287.0 726.6,286.8 727.0,286.5 727.4,286.3 727.8,286.1 728.2,285.8 728.6,285.6 729.0,285.4 729.4,285.2 729.8,285.0 730.2,284.8 730.6,284.5 731.0,284.3 731.4,284.1 731.8,283.9 732.2,283.7 732.6,283.5 733.0,283.3 733.4,283.0 733.8,282.8 734.2,282.5 734.6,282.3 735.0,282.0 735.4,281.7 735.8,281.4 736.2,281.1 736.6,280.7 737.0,280.4 737.4,280.0 737.8,279.6 738.2,279.2 738.6,278.8 739.0,278.4 739.4,278.0 739.8,277.6 740.2,277.2 740.6,276.8 741.0,276.3 741.4,275.9 741.8,275.5 742.2,275.2 742.6,274.8 743.0,274.4 743.4,274.0 743.8,273.7 744.2,273.4 744.6,273.0 745.0,272.6 745.4,272.3 745.8,271.9 746.2,271.6 746.6,271.2 747.0,270.9 747.4,270.5 747.8,270.2 748.2,269.9 748.6,269.7 749.0,269.4 749.4,269.2 749.8,269.1 750.2,268.9 750.6,268.8 751.0,268.7 751.4,268.6 751.8,268.5 752.2,268.4 752.6,268.3 753.0,268.2 753.4,268.1 753.8,268.1 754.2,268.0 754.6,268.0 755.0,268.0 755.4,268.0 755.8,268.1 756.2,268.2 756.6,268.3 757.0,268.4 757.4,268.6 757.8,268.8 758.2,269.0 758.6,269.2 759.0,269.4 759.4,269.6 759.8,269.9 760.2,270.1 760.6,270.4 761.0,270.8 761.4,271.2 761.8,271.6 762.2,272.1 762.6,272.6 763.0,273.2 763.4,273.7 763.8,274.3 764.2,274.9 764.6,275.6 765.0,276.2 765.4,276.8 765.8,277.4 766.2,278.1 766.6,278.7 767.0,279.3 767.4,279.9 767.8,280.4 768.2,281.0 768.6,281.6 769.0,282.2 769.4,282.7 769.8,283.3 770.2,283.9 770.6,284.6 771.0,285.2 771.4,285.8 771.8,286.4 772.2,287.0 772.6,287.6 773.0,288.2 773.4,288.8 773.8,289.4 774.2,290.0 774.6,290.5 775.0,291.1 775.4,291.7 775.8,292.2 776.2,292.8 776.6,293.3 777.0,293.9 777.4,294.4 777.8,295.0 778.2,295.5 778.6,296.1 779.0,296.6 779.4,297.1 779.8,297.7 780.2,298.2 780.6,298.8 781.0,299.3 781.4,299.8 781.8,300.3 782.2,300.8 782.6,301.3 783.0,301.8 783.4,302.3 783.8,302.7 784.2,303.2 784.6,303.6 785.0,304.0 785.4,304.4 785.8,304.8 786.2,305.2 786.6,305.5 787.0,305.9 787.4,306.2 787.8,306.5 788.2,306.8 788.6,307.1 789.0,307.3 789.4,307.6 789.8,307.8 790.2,308.1 790.6,308.3 791.0,308.6 791.4,308.8 791.8,309.1 792.2,309.3 792.6,309.5 793.0,309.8 793.4,310.0 793.8,310.3 794.2,310.5 794.6,310.8 795.0,311.1 795.4,311.4 795.8,311.7 796.2,312.0 796.6,312.4 797.0,312.8 797.4,313.1 797.8,313.5 798.2,314.0 798.6,314.4 799.0,315.0 799.4,315.5 799.8,316.1 800.2,316.7 800.6,317.4 801.0,318.1 801.4,318.8 801.8,319.6 802.2,320.4 802.6,321.1 803.0,322.0 803.4,322.8 803.8,323.6 804.2,324.5 804.6,325.3 805.0,326.2 805.4,327.0 805.8,327.9 806.2,328.8 806.6,329.6 807.0,330.5 807.4,331.3 807.8,332.1 808.2,332.9 808.6,333.7 809.0,334.6 809.4,335.5 809.8,336.4 810.2,337.3 810.6,338.2 811.0,339.2 811.4,340.1 811.8,341.1 812.2,342.1 812.6,343.0 813.0,344.0 813.4,344.9 813.8,345.9 814.2,346.8 814.6,347.7 815.0,348.6 815.4,349.5 815.8,350.3 816.2,351.1 816.6,351.9 817.0,352.6 817.4,353.3 817.8,354.0 818.2,354.6 818.6,355.1 819.0,355.7 819.4,356.2 819.8,356.6 820.2,357.1 820.6,357.5 821.0,358.0 821.4,358.4 821.8,358.8 822.2,359.2 822.6,359.5 823.0,359.9 823.4,360.3 823.8,360.6 824.2,361.0 824.6,361.3 825.0,361.7 825.4,362.0 825.8,362.4 826.2,362.7 826.6,363.1 827.0,363.5 827.4,363.9 827.8,364.3 828.2,364.7 828.6,365.1 829.0,365.5 829.4,366.0 829.8,366.4 830.2,366.8 830.6,367.2 831.0,367.7 831.4,368.1 831.8,368.6 832.2,369.0 832.6,369.5 833.0,369.9 833.4,370.4 833.8,370.9 834.2,371.4 834.6,371.9 835.0,372.4 835.4,372.9 835.8,373.5 836.2,374.0 836.6,374.6 837.0,375.2 837.4,375.8 837.8,376.4 838.2,377.1 838.6,377.8 839.0,378.5 839.4,379.2 839.8,380.0 840.2,380.8 840.6,381.6 841.0,382.5 841.4,383.5 841.8,384.5 842.2,385.7 842.6,386.9 843.0,388.1 843.4,389.5 843.8,390.8 844.2,392.1 844.6,393.5 845.0,394.8 845.4,396.2 845.8,397.6 846.2,399.1 846.6,400.5 847.0,402.0 847.4,403.5 847.8,405.0 848.2,406.5 848.6,408.1 849.0,409.6 849.4,411.2 849.8,412.7 850.2,414.3 850.6,416.1 851.0,417.9 851.4,419.7 851.8,421.5 852.2,423.2 852.6,424.7 853.0,426.1 853.4,427.3 853.8,428.2 854.2,429.1 854.6,429.9 855.0,430.7 855.4,431.4 855.8,432.1 856.2,432.6 856.6,433.1 857.0,433.5 857.4,433.9 857.8,434.2 858.2,434.4 858.6,434.7 859.0,434.8 859.4,435.0 859.8,435.0 860.2,435.0 860.6,434.9 861.0,434.7 861.4,434.6 861.8,434.4 862.2,434.2 862.6,433.9 863.0,433.6 863.4,433.4 863.8,433.1 864.2,432.8 864.6,432.6 865.0,432.3 865.4,432.1 865.8,431.8 866.2,431.6 866.6,431.3 867.0,431.0 867.4,430.7 867.8,430.4 868.2,430.1 868.6,429.8 869.0,429.5 869.4,429.2 869.8,428.8 870.2,428.5 870.6,428.2 871.0,427.8 871.4,427.5 871.8,427.2 872.2,426.8 872.6,426.5 873.0,426.2 873.4,425.8 873.8,425.5 874.2,425.2 874.6,424.9 875.0,424.5 875.4,424.2 875.8,423.9 876.2,423.6 876.6,423.3 877.0,423.0 877.4,422.7 877.8,422.4 878.2,422.1 878.6,421.7 879.0,421.4 879.4,421.1 879.8,420.8 880.2,420.5 880.6,420.2 881.0,419.9 881.4,419.6 881.8,419.2 882.2,418.9 882.6,418.6 883.0,418.3 883.4,418.0 883.8,417.7 884.2,417.4 884.6,417.1 885.0,416.8 885.4,416.5 885.8,416.2 886.2,415.9 886.6,415.6 887.0,415.3 887.4,415.0 887.8,414.7 888.2,414.4 888.6,414.1 889.0,413.9 889.4,413.6 889.8,413.3 890.2,413.0 890.6,412.8 891.0,412.5 891.4,412.2 891.8,412.0 892.2,411.7 892.6,411.5 893.0,411.2 893.4,410.9 893.8,410.7 894.2,410.4 894.6,410.2 895.0,409.9 895.4,409.7 895.8,409.4 896.2,409.2 896.6,408.9 897.0,408.7 897.4,408.4 897.8,408.2 898.2,408.0 898.6,407.7 899.0,407.5 899.4,407.3 899.8,407.0 900.2,406.8 900.6,406.6 901.0,406.3 901.4,406.1 901.8,405.9 902.2,405.7 902.6,405.5 903.0,405.3 903.4,405.0 903.8,404.8 904.2,404.6 904.6,404.4 905.0,404.2 905.4,404.0 905.8,403.8 906.2,403.7 906.6,403.5 907.0,403.3 907.4,403.1 907.8,402.9 908.2,402.7 908.6,402.6 909.0,402.4 909.4,402.2 909.8,402.0 910.2,401.8 910.6,401.7 911.0,401.5 911.4,401.3 911.8,401.2 912.2,401.0 912.6,400.8 913.0,400.7 913.4,400.5 913.8,400.4 914.2,400.2 914.6,400.1 915.0,399.9 915.4,399.8 915.8,399.6 916.2,399.5 916.6,399.4 917.0,399.2 917.4,399.1 917.8,399.0 918.2,398.8 918.6,398.7 919.0,398.6 919.4,398.5 919.8,398.4 920.2,398.2 920.6,398.1 921.0,398.0 921.4,397.9 921.8,397.8 922.2,397.7 922.6,397.6 923.0,397.5 923.4,397.4 923.8,397.3 924.2,397.1 924.6,397.0 925.0,396.9 925.4,396.9 925.8,396.8 926.2,396.7 926.6,396.6 927.0,396.5 927.4,396.4 927.8,396.3 928.2,396.2 928.6,396.1 929.0,396.1 929.4,396.0 929.8,395.9 930.2,395.8 930.6,395.8 931.0,395.7"/>
</g>
<path d="M258.1,568.9V152.9" stroke="#000" stroke-width="3.4" stroke-dasharray="14.3 11.53" fill="none"/>
<path d="M409.2,570.0V251.6" stroke="#000" stroke-width="3.4" stroke-dasharray="14.3 11.53" fill="none"/>
<path d="M755.2,569.2V251.0" stroke="#000" stroke-width="3.4" stroke-dasharray="14.3 11.53" fill="none"/>
<rect x="632.8" y="14.9" width="296.7" height="200.8" fill="#fff" stroke="#000" stroke-width="1.4"/>
<path d="M929.5,2.9000000000000004V218" stroke="#000" stroke-width="2.9"/>
<path d="M656,41.8H726" stroke="#000000" stroke-width="4.0" stroke-linecap="round"/>
<text x="735.2" y="52.2" font-size="31.2" textLength="181.5" lengthAdjust="spacingAndGlyphs">GO 1 mg/mL</text>
<path d="M656,80.7H726" stroke="#ff0000" stroke-width="4.0" stroke-linecap="round"/>
<text x="735.2" y="91.1" font-size="31.2" textLength="181.5" lengthAdjust="spacingAndGlyphs">GO 2 mg/mL</text>
<path d="M656,119.4H726" stroke="#0000ff" stroke-width="4.0" stroke-linecap="round"/>
<text x="735.2" y="129.8" font-size="31.2" textLength="181.5" lengthAdjust="spacingAndGlyphs">GO 3 mg/mL</text>
<path d="M656,158.2H726" stroke="#ff00ff" stroke-width="4.0" stroke-linecap="round"/>
<text x="735.2" y="168.6" font-size="31.2" textLength="181.5" lengthAdjust="spacingAndGlyphs">GO 4 mg/mL</text>
<path d="M656,197.0H726" stroke="#008000" stroke-width="4.0" stroke-linecap="round"/>
<text x="735.2" y="207.4" font-size="31.2" textLength="181.5" lengthAdjust="spacingAndGlyphs">GO 5 mg/mL</text>
<text transform="translate(173.0,630.5) scale(1.03,1)" font-size="32.8" text-anchor="middle">500</text>
<text transform="translate(281.1,630.5) scale(1.03,1)" font-size="32.8" text-anchor="middle">1000</text>
<text transform="translate(389.3,630.5) scale(1.03,1)" font-size="32.8" text-anchor="middle">1500</text>
<text transform="translate(497.4,630.5) scale(1.03,1)" font-size="32.8" text-anchor="middle">2000</text>
<text transform="translate(605.5,630.5) scale(1.03,1)" font-size="32.8" text-anchor="middle">2500</text>
<text transform="translate(713.6,630.5) scale(1.03,1)" font-size="32.8" text-anchor="middle">3000</text>
<text transform="translate(821.7,630.5) scale(1.03,1)" font-size="32.8" text-anchor="middle">3500</text>
<text transform="translate(929.9,630.5) scale(1.03,1)" font-size="32.8" text-anchor="middle">4000</text>
<text transform="translate(116.4,577.2) scale(1.035,1)" font-size="33.2" text-anchor="end">0.00</text>
<text transform="translate(116.4,452.1) scale(1.035,1)" font-size="33.2" text-anchor="end">0.04</text>
<text transform="translate(116.4,327.1) scale(1.035,1)" font-size="33.2" text-anchor="end">0.08</text>
<text transform="translate(116.4,202.0) scale(1.035,1)" font-size="33.2" text-anchor="end">0.12</text>
<text transform="translate(116.4,76.9) scale(1.035,1)" font-size="33.2" text-anchor="end">0.16</text>
<text transform="translate(359.5,676.0) scale(1.035,1)" font-size="33.4" text-anchor="start">Wavenumber (cm<tspan dy="-13" font-size="21">-1</tspan><tspan dy="13">)</tspan></text>
<text transform="translate(28.4,281.5) rotate(-90) scale(1.035,1)" font-size="33.8" text-anchor="middle">Absorbance</text>
<text class="ann" transform="translate(0,142.5) scale(1.03,1)" font-size="35.8"><tspan x="200.33">C</tspan><tspan x="222.75">-</tspan><tspan x="235.08">O</tspan><tspan x="262.07">-</tspan><tspan x="273.92">C</tspan></text>
<text class="ann" transform="translate(0,240.5) scale(1.03,1)" font-size="35.8"><tspan x="369.94">C</tspan><tspan x="414.79">O</tspan></text><text class="ann" transform="translate(404.77,242.00) scale(0.78,1)" font-size="35.8">=</text>
<text class="ann" transform="translate(0,252.1) scale(1.05,1)" font-size="35.4"><tspan x="649.73">O</tspan><tspan x="676.49">-</tspan><tspan x="687.67">H</tspan></text>
</svg></body></html>
